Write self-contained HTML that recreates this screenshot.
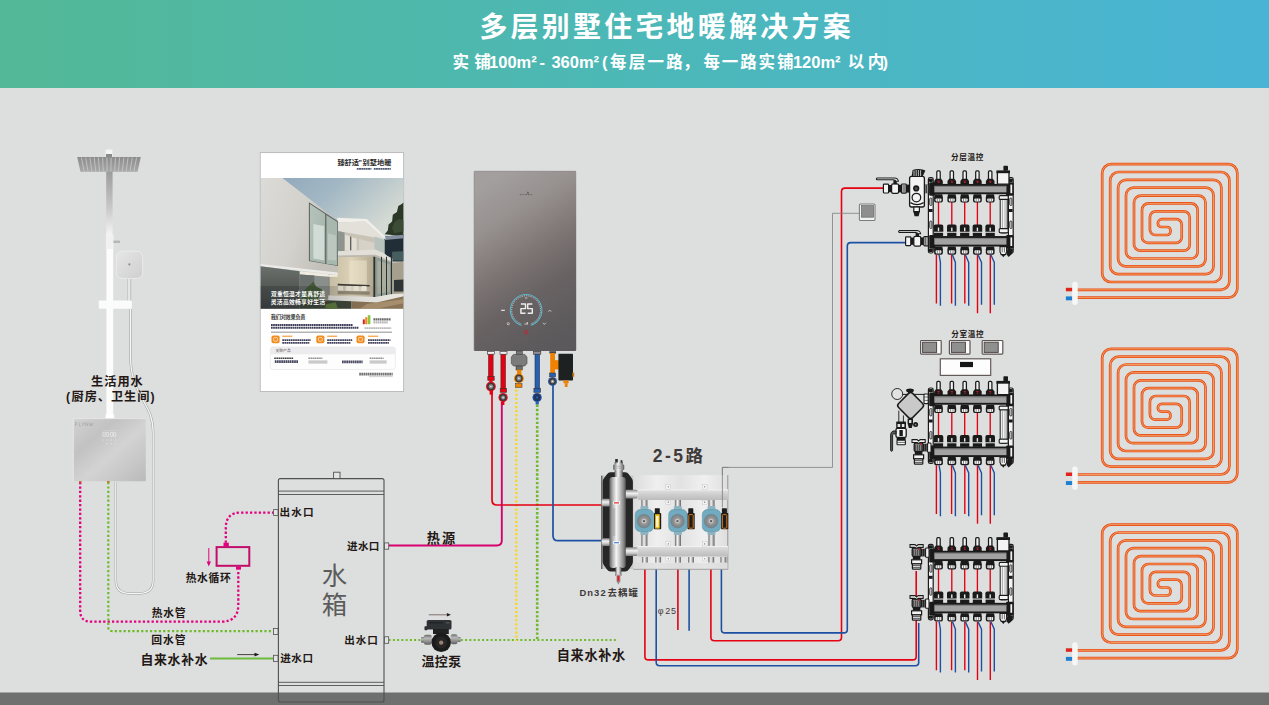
<!DOCTYPE html>
<html><head><meta charset="utf-8"><title>多层别墅住宅地暖解决方案</title>
<style>
html,body{margin:0;padding:0;overflow:hidden;width:1269px;height:705px;background:#dddfde;font-family:"Liberation Sans",sans-serif;}
svg{display:block}
</style></head><body>
<svg width="1269" height="705" viewBox="0 0 1269 705">
<defs>

<linearGradient id="hdr" x1="0" x2="1" y1="0" y2="0">
 <stop offset="0" stop-color="#53b896"/><stop offset="0.5" stop-color="#4cb8b7"/><stop offset="1" stop-color="#4ab4d6"/>
</linearGradient>


<linearGradient id="poleg" x1="0" x2="0" y1="0" y2="1">
 <stop offset="0" stop-color="#9b9b9b"/><stop offset="0.55" stop-color="#c9c9c9"/><stop offset="1" stop-color="#fbfbfb"/>
</linearGradient>
<linearGradient id="headg" x1="0" x2="0" y1="0" y2="1">
 <stop offset="0" stop-color="#8c8c8c"/><stop offset="1" stop-color="#a9a9a9"/>
</linearGradient>
<linearGradient id="handg" x1="0" x2="1" y1="0" y2="1">
 <stop offset="0" stop-color="#e6e6e6"/><stop offset="1" stop-color="#cfcfcf"/>
</linearGradient>
<linearGradient id="heatg" x1="0" x2="1" y1="0" y2="1">
 <stop offset="0" stop-color="#d2d2d2"/><stop offset="0.3" stop-color="#c2c2c2"/><stop offset="0.55" stop-color="#d3d3d3"/><stop offset="0.8" stop-color="#c6c6c6"/><stop offset="1" stop-color="#b9b9b9"/>
</linearGradient>

<linearGradient id="skyg" x1="0" x2="1" y1="0" y2="1">
 <stop offset="0" stop-color="#8aa4ba"/><stop offset="0.3" stop-color="#a3b8c4"/><stop offset="0.6" stop-color="#d3d9d3"/><stop offset="1" stop-color="#dcddd2"/>
</linearGradient>
<linearGradient id="wallg" x1="0" x2="1" y1="0" y2="0.4">
 <stop offset="0" stop-color="#dddbd7"/><stop offset="0.6" stop-color="#d3d1cc"/><stop offset="1" stop-color="#c3c0b9"/>
</linearGradient>
<linearGradient id="glassg" x1="0" x2="1" y1="0" y2="1">
 <stop offset="0" stop-color="#b5c3bc"/><stop offset="1" stop-color="#a3b3a9"/>
</linearGradient>
<linearGradient id="warmg" x1="0" x2="1" y1="0" y2="0">
 <stop offset="0" stop-color="#c4bba3"/><stop offset="0.5" stop-color="#ddd2b6"/><stop offset="1" stop-color="#b0a68f"/>
</linearGradient>
<linearGradient id="darkg" x1="0" x2="0" y1="0" y2="1">
 <stop offset="0" stop-color="#6a706c"/><stop offset="1" stop-color="#3e4140"/>
</linearGradient>
<linearGradient id="bandg" x1="0" x2="1" y1="0" y2="0">
 <stop offset="0" stop-color="#1e2224" stop-opacity="0.28"/><stop offset="0.45" stop-color="#1e2224" stop-opacity="0.2"/><stop offset="0.7" stop-color="#2a2520" stop-opacity="0.05"/><stop offset="1" stop-color="#2a2520" stop-opacity="0"/>
</linearGradient>
<clipPath id="photoclip"><rect x="260.5" y="177.9" width="143" height="130.9"/></clipPath>

<linearGradient id="boilg" x1="0.32" x2="0.68" y1="0" y2="1">
 <stop offset="0" stop-color="#a39f9f"/><stop offset="0.22" stop-color="#979190"/><stop offset="0.5" stop-color="#7b7372"/><stop offset="0.7" stop-color="#686263"/><stop offset="1" stop-color="#5b595b"/>
</linearGradient>

<linearGradient id="steelh" x1="0" x2="1" y1="0" y2="0">
 <stop offset="0" stop-color="#5e5e5e"/><stop offset="0.18" stop-color="#a9a9a9"/><stop offset="0.42" stop-color="#f4f4f4"/><stop offset="0.62" stop-color="#c9c9c9"/><stop offset="0.85" stop-color="#8a8a8a"/><stop offset="1" stop-color="#555"/>
</linearGradient>
<linearGradient id="steelv" x1="0" x2="0" y1="0" y2="1">
 <stop offset="0" stop-color="#8a8a8a"/><stop offset="0.4" stop-color="#f2f2f2"/><stop offset="0.7" stop-color="#c4c4c4"/><stop offset="1" stop-color="#7a7a7a"/>
</linearGradient>
<linearGradient id="railg" x1="0" x2="0" y1="0" y2="1">
 <stop offset="0" stop-color="#e2e2e2"/><stop offset="0.5" stop-color="#cdcdcd"/><stop offset="1" stop-color="#bcbcbc"/>
</linearGradient>
<linearGradient id="panelg" x1="0" x2="1" y1="0" y2="0">
 <stop offset="0" stop-color="#dcdcdc"/><stop offset="0.25" stop-color="#efefef"/><stop offset="0.5" stop-color="#e2e2e2"/><stop offset="0.75" stop-color="#f0f0f0"/><stop offset="1" stop-color="#dedede"/>
</linearGradient>
<radialGradient id="pumpc" cx="0.5" cy="0.5" r="0.5">
 <stop offset="0" stop-color="#5e5e5e"/><stop offset="0.28" stop-color="#b9b9b9"/><stop offset="0.6" stop-color="#8c8c8c"/><stop offset="1" stop-color="#76858b"/>
</radialGradient>

</defs>
<rect width="1269" height="705" fill="#dddfde"/>
<rect width="1269" height="88" fill="url(#hdr)"/>
<rect y="692.5" width="1269" height="12.5" fill="#6e706f"/>
<text x="479.4" y="36.88" font-size="27.88" font-weight="bold" fill="#fff" letter-spacing="3.33" font-family='"Liberation Sans","Noto Sans CJK SC",sans-serif'>多层别墅住宅地暖解决方案</text>
<text y="67.5" font-size="16.5" font-weight="bold" fill="#fff" font-family='"Liberation Sans","Noto Sans CJK SC",sans-serif'><tspan x="452.6">实</tspan><tspan x="474.3">铺</tspan><tspan x="489.1">100m²</tspan><tspan x="539.4">-</tspan><tspan x="551.4">360m²</tspan><tspan x="601.9">(</tspan><tspan x="610.1" letter-spacing="2.26">每层一路</tspan><tspan x="683">，</tspan><tspan x="703.5" letter-spacing="1.85">每一路实铺</tspan><tspan x="792.9">120m²</tspan><tspan x="847.7" letter-spacing="3.5">以内</tspan><tspan x="882.6">)</tspan></text>
<path d="M80.2,482.0 L80.2,610.7 Q80.2,621.7 91.2,621.7 L221.3,621.7 Q238.3,621.7 238.3,604.7 L238.3,569.5" fill="none" stroke="#e4007f" stroke-width="2.3" stroke-linecap="butt" stroke-linejoin="round" stroke-dasharray="2.3 2.1"/>
<path d="M225.8,542.7 L225.8,527.7 Q225.8,512.6 240.9,512.6 L273.5,512.6" fill="none" stroke="#e4007f" stroke-width="2.3" stroke-linecap="butt" stroke-linejoin="round" stroke-dasharray="2.3 2.1"/>
<path d="M108.3,482.0 L108.3,627.2 Q108.3,631.2 112.3,631.2 L273.5,631.2" fill="none" stroke="#6fba2c" stroke-width="2.2" stroke-linecap="butt" stroke-linejoin="round" stroke-dasharray="2.2 2.2"/>
<path d="M210.0,658.6 L273.5,658.6" fill="none" stroke="#6cbb3c" stroke-width="2.0" stroke-linecap="butt" stroke-linejoin="round"/>
<path d="M388.6,639.9 L616.8,639.9" fill="none" stroke="#6fba2c" stroke-width="2.0" stroke-linecap="butt" stroke-linejoin="round" stroke-dasharray="2 2.25"/>
<path d="M516.3,385.5 L516.3,641.0" fill="none" stroke="#fbd620" stroke-width="2.3" stroke-linecap="butt" stroke-linejoin="round" stroke-dasharray="2.15 1.95"/>
<path d="M537.2,404.5 L537.2,640.0" fill="none" stroke="#6fba2c" stroke-width="2.6" stroke-linecap="butt" stroke-linejoin="round" stroke-dasharray="2.4 1.9"/>
<path d="M492.0,390.0 L492.0,500.0 Q492.0,505.0 497.0,505.0 L604.0,505.0" fill="none" stroke="#e60012" stroke-width="1.7" stroke-linecap="butt" stroke-linejoin="round"/>
<path d="M501.8,402.0 L501.8,540.5 Q501.8,545.5 496.8,545.5 L388.7,545.5" fill="none" stroke="#d6006f" stroke-width="1.9" stroke-linecap="butt" stroke-linejoin="round"/>
<path d="M553.0,385.0 L553.0,535.7 Q553.0,540.7 558.0,540.7 L604.0,540.7" fill="none" stroke="#1d50a2" stroke-width="1.7" stroke-linecap="butt" stroke-linejoin="round"/>
<path d="M644.9,569.0 L644.9,656.4 Q644.9,659.9 648.4,659.9 L912.7,659.9 Q916.2,659.9 916.2,656.4 L916.2,571.0" fill="none" stroke="#e60012" stroke-width="1.6" stroke-linecap="butt" stroke-linejoin="round"/>
<path d="M656.2,569.0 L656.2,662.3 Q656.2,665.8 659.7,665.8 L915.2,665.8 Q918.7,665.8 918.7,662.3 L918.7,623.0" fill="none" stroke="#1d50a2" stroke-width="1.6" stroke-linecap="butt" stroke-linejoin="round"/>
<path d="M677.9,569.0 L677.9,630.0" fill="none" stroke="#e60012" stroke-width="1.6" stroke-linecap="butt" stroke-linejoin="round"/>
<path d="M689.1,569.0 L689.1,630.8" fill="none" stroke="#1d50a2" stroke-width="1.6" stroke-linecap="butt" stroke-linejoin="round"/>
<path d="M710.9,569.0 L710.9,637.3 Q710.9,640.8 714.4,640.8 L838.0,640.8 Q841.5,640.8 841.5,637.3 L841.5,191.6 Q841.5,188.1 845.0,188.1 L883.5,188.1" fill="none" stroke="#e60012" stroke-width="1.6" stroke-linecap="butt" stroke-linejoin="round"/>
<path d="M721.4,569.0 L721.4,629.4 Q721.4,632.9 724.9,632.9 L843.8,632.9 Q847.3,632.9 847.3,629.4 L847.3,246.1 Q847.3,242.6 850.8,242.6 L905.5,242.6" fill="none" stroke="#1d50a2" stroke-width="1.6" stroke-linecap="butt" stroke-linejoin="round"/>
<path d="M722.4,507.0 L722.4,467.4 Q722.4,467.4 722.4,467.4 L832.5,467.4 Q832.5,467.4 832.5,467.4 L832.5,213.3 Q832.5,213.3 832.5,213.3 L859.0,213.3" fill="none" stroke="#7d7d7d" stroke-width="0.8" stroke-linecap="butt" stroke-linejoin="round"/>
<path d="M208.8,548 V563" stroke="#e4007f" stroke-width="1" fill="none"/><path d="M206.6,561.5 L208.8,566.5 L211,561.5 Z" fill="#e4007f"/>
<path d="M237.2,654.6 H256" stroke="#231815" stroke-width="0.8" fill="none"/><path d="M254.5,652.8 L259.3,654.6 L254.5,656.4 Z" fill="#231815"/>
<path d="M428.8,614.8 H448" stroke="#6a5656" stroke-width="0.8" fill="none"/><path d="M446.9,613.1 L450.9,614.8 L446.9,616.5 Z" fill="#2a1a1a"/>
<rect x="216.6" y="547.1" width="32.7" height="18.7" fill="none" stroke="#c30d6b" stroke-width="2"/>
<rect x="223.5" y="542.7" width="5.3" height="3.6" fill="#e4007f"/><rect x="236" y="566.6" width="5" height="3" fill="#e4007f"/>
<path d="M130.5,309 V356 C130.5,376 136,387 141,396.5 C146.5,407 153.2,415 153.2,433 V580 Q153.2,593.3 140,593.3 H129 Q115.8,593.3 115.8,580 V482" fill="none" stroke="#9d9d9d" stroke-width="2.3"/>
<path d="M130.5,309 V356 C130.5,376 136,387 141,396.5 C146.5,407 153.2,415 153.2,433 V580 Q153.2,593.3 140,593.3 H129 Q115.8,593.3 115.8,580 V482" fill="none" stroke="#f6f6f6" stroke-width="1.3"/>
<rect x="106.2" y="171" width="6.4" height="68" fill="url(#poleg)"/>
<rect x="106.4" y="235" width="6.8" height="184" fill="#fcfcfc"/>
<rect x="105.8" y="235" width="7.6" height="14" fill="#f1f1f1"/>
<rect x="105.6" y="414.5" width="8.6" height="4.2" fill="#ffffff"/>
<rect x="105.6" y="149.5" width="6.8" height="8" fill="#f4f4f4"/><rect x="106" y="154" width="6" height="3.4" fill="#8a8a8a"/>
<path d="M77.2,157 H140.8 L137.6,171.8 H80.4 Z" fill="url(#headg)"/>
<path d="M81.4,157.6 L84.2,171.4 M85.7,157.6 L88.0,171.4 M89.9,157.6 L91.8,171.4 M94.2,157.6 L95.7,171.4 M98.4,157.6 L99.5,171.4 M102.6,157.6 L103.3,171.4 M106.9,157.6 L107.1,171.4 M111.1,157.6 L110.9,171.4 M115.4,157.6 L114.7,171.4 M119.6,157.6 L118.5,171.4 M123.8,157.6 L122.3,171.4 M128.1,157.6 L126.2,171.4 M132.3,157.6 L130.0,171.4 M136.6,157.6 L133.8,171.4 " stroke="#c4c4c4" stroke-width="0.9" fill="none"/>
<rect x="113.4" y="240.6" width="6.6" height="2.4" fill="#b5b5b5"/>
<rect x="127" y="270" width="4.4" height="31" fill="#c9c9c9"/><rect x="128.2" y="270" width="1.6" height="31" fill="#ececec"/>
<rect x="116.3" y="251.2" width="26.3" height="27.2" rx="5.5" fill="url(#handg)" stroke="#eeeeee" stroke-width="0.8"/>
<circle cx="129.4" cy="264.4" r="1.1" fill="#8d8d8d"/>
<rect x="98.8" y="300.4" width="33" height="8.4" rx="0.8" fill="#fbfbfb"/>
<rect x="73.4" y="418.6" width="72.4" height="62.6" rx="1" fill="url(#heatg)"/>
<path d="M73.4,481.2 V418.6 H145.8" fill="none" stroke="#e9e9e9" stroke-width="0.8"/>
<path d="M75.5,422.4 h2.2 m-2.2,0 v3.6 m0,-1.8 h1.8 M79.2,422.4 v3.6 h1.8 M81.6,422.4 l1.3,1.8 l1.3,-1.8 m-1.3,1.8 v1.8 M85.2,426 v-3.6 l2.4,3.6 v-3.6 M89.2,422.4 l0.9,3.6 l0.9,-2.6 l0.9,2.6 l0.9,-3.6" stroke="#9a9a9a" stroke-width="0.45" fill="none"/>
<g fill="none" stroke="#f4f4f4" stroke-width="0.7" opacity="0.9"><rect x="102.8" y="432.4" width="2.4" height="4" rx="0.5"/><rect x="106.2" y="432.4" width="2.4" height="4" rx="0.5"/><rect x="110.4" y="432.4" width="2.4" height="4" rx="0.5"/><rect x="113.6" y="432.4" width="2.2" height="4" rx="0.5"/><path d="M102.6,430.4 h13.4" stroke-width="0.4" opacity="0.6"/></g>
<g fill="#e6e6e6"><circle cx="103" cy="440" r="0.6"/><circle cx="107" cy="440" r="0.6"/><circle cx="111.4" cy="440" r="0.6"/><circle cx="115.4" cy="440" r="0.6"/><circle cx="107" cy="443.6" r="0.6"/><circle cx="111.4" cy="443.6" r="0.6"/><circle cx="115.4" cy="443.6" r="0.6"/></g>
<rect x="79" y="481" width="2.6" height="1.6" fill="#c47a2a"/><rect x="107" y="481" width="2.6" height="1.6" fill="#c47a2a"/>
<rect x="260.2" y="152.7" width="143.5" height="238.7" fill="#ffffff" stroke="#a9a9a9" stroke-width="0.7"/>
<g clip-path="url(#photoclip)">
<rect x="260.3" y="177.9" width="143.2" height="131" fill="url(#skyg)"/>
<polygon points="384.7,234.3 387.8,230.4 388.6,224.5 392.1,221.6 392.8,214.8 396.9,211.9 398.3,206.1 401.8,204.1 403.7,202.2 403.7,236.2" fill="#2b3727" />
<polygon points="392.1,227.5 395.0,221.6 399.8,218.7 403.7,220.7 403.7,231.3 394.0,233.3" fill="#3c4b35" />
<polygon points="384.3,236.4 403.7,234.8 403.7,261.5 392.1,261.5 384.3,253.1" fill="#222e37" />
<polygon points="384.3,236.4 403.7,234.8 403.7,238.3 384.7,239.9" fill="#8591a0" />
<polygon points="392.1,251.7 403.7,251.2 403.7,260.5 392.1,260.5" fill="#55756f" opacity="0.7"/>
<polygon points="337.3,217.7 366.8,218.9 385.3,236.8 385.3,239.5 365.2,221.6 337.3,222.4" fill="#f1efea" />
<polygon points="337.7,222.4 365.2,221.6 383.9,238.3 374.6,237.6 337.7,231.0" fill="#e3e0d9" />
<polygon points="337.7,231.0 374.6,237.6 374.6,251.2 337.7,251.5" fill="#c9c3b6" />
<polygon points="337.7,231.0 344.5,232.5 344.5,251.2 337.7,251.5" fill="#8e958f" />
<polygon points="345.0,234.8 356.7,238.7 356.7,250.4 345.0,250.8" fill="#e2dfd4" />
<polygon points="350.1,236.4 351.3,236.8 351.3,250.6 350.1,250.6" fill="#4d5250" />
<polygon points="359.0,239.1 374.2,242.6 374.2,250.4 359.0,250.4" fill="#d7d4ca" opacity="0.9"/>
<polygon points="374.6,236.4 384.7,239.9 384.7,253.1 374.6,250.0" fill="#b4c0b9" opacity="0.9"/>
<polygon points="337.7,251.2 375.7,249.6 392.4,258.5 392.4,262.8 375.7,256.6 337.7,257.4" fill="#e2dfd9" />
<polygon points="337.7,255.4 375.7,254.7 392.4,261.7 392.4,263.2 375.7,257.0 337.7,257.8" fill="#bdb8ad" />
<polygon points="328.3,257.4 375.0,256.6 375.0,297.0 328.3,295.8" fill="url(#warmg)" />
<polygon points="349.3,260.5 366.8,260.5 366.8,291.6 349.3,291.6" fill="#efe6d0" opacity="0.55"/>
<polygon points="375.0,256.6 392.4,262.8 392.4,294.3 375.0,297.4" fill="#8f9c92" />
<polygon points="377.5,260.5 390.1,264.8 390.1,291.6 377.5,293.9" fill="#c9c4ad" opacity="0.45"/>
<polygon points="392.4,262.8 403.7,261.8 403.7,293.9 392.4,294.3" fill="#a79f8d" />
<polygon points="394.0,279.9 403.7,279.5 403.7,291.6 394.0,291.6" fill="#2f3436" />
<polygon points="373.4,256.6 375.2,257.0 375.2,297.4 373.4,297.4" fill="#2c3133" />
<polygon points="381.0,256.6 382.0,257.0 382.0,297.4 381.0,297.4" fill="#2c3133" />
<polygon points="386.0,256.6 387.0,257.0 387.0,297.4 386.0,297.4" fill="#2c3133" />
<polygon points="390.9,256.6 392.1,257.0 392.1,297.4 390.9,297.4" fill="#2c3133" />
<polygon points="328.3,257.4 329.5,257.4 329.5,295.8 328.3,295.8" fill="#6d716d" />
<polygon points="337.7,283.8 369.7,285.0 369.7,286.5 337.7,285.4" fill="#3b3a36" />
<polygon points="338.2,286.1 342.9,286.1 343.3,290.8 337.9,290.8" fill="#f1eee6" opacity="0.9"/>
<polygon points="346.0,286.1 350.7,286.1 351.1,290.8 345.6,290.8" fill="#f1eee6" opacity="0.9"/>
<polygon points="353.8,286.1 358.4,286.1 358.8,290.8 353.4,290.8" fill="#f1eee6" opacity="0.9"/>
<polygon points="361.6,286.1 366.2,286.1 366.6,290.8 361.2,290.8" fill="#f1eee6" opacity="0.9"/>
<polygon points="337.7,290.8 369.7,291.6 369.7,294.7 337.7,294.3" fill="#6d6656" opacity="0.6"/>
<polygon points="327.6,295.5 375.0,297.0 392.4,293.9 403.7,293.5 403.7,296.2 376.9,302.5 327.6,299.7" fill="#e9e7e2" />
<polygon points="260.3,177.9 282.3,177.9 337.7,220.7 337.7,274.5 260.3,265.5" fill="url(#wallg)" />
<polygon points="260.3,264.0 337.7,272.5 337.7,274.9 260.3,266.3" fill="#ecebe7" />
<polygon points="308.9,202.2 338.0,221.2 338.0,265.9 308.9,260.9" fill="#5a6260" />
<polygon points="309.9,204.1 325.2,214.1 325.2,263.6 309.9,260.5" fill="url(#glassg)" />
<polygon points="326.4,215.0 337.3,222.0 337.3,265.3 326.4,263.8" fill="#a9b8af" />
<polygon points="313.4,224.0 324.1,225.9 324.1,260.5 313.4,258.5" fill="#dfe7e1" opacity="0.75"/>
<polygon points="327.9,233.3 336.1,235.6 336.1,260.5 327.9,259.7" fill="#cfd8d0" opacity="0.5"/>
<polygon points="260.3,266.3 299.8,271.2 299.8,309.1 260.3,309.1" fill="url(#darkg)" />
<polygon points="299.8,271.2 337.7,275.3 337.7,276.8 328.3,276.8 299.8,274.5" fill="#f0ece2" />
<polygon points="299.8,274.5 328.3,276.8 328.3,299.7 299.8,299.3" fill="#8a8f8b" />
<polygon points="299.8,274.5 314.3,275.6 314.3,299.3 299.8,299.3" fill="#6a706d" />
<polygon points="299.8,299.3 351.3,301.3 351.3,309.1 299.8,309.1" fill="#3b4336" />
<polygon points="301.1,293.5 308.9,285.7 313.4,281.5 316.3,286.7 322.1,289.6 319.8,296.4 316.3,300.3 301.7,300.3" fill="#435a37" />
<polygon points="326.0,304.2 335.7,302.3 338.0,309.1 325.0,309.1" fill="#5d7a3c" />
<polygon points="351.3,301.3 376.9,302.5 403.7,296.2 403.7,309.1 351.3,309.1" fill="#8b7457" />
<polygon points="366.8,304.0 403.7,299.3 403.7,303.2 374.6,309.1 359.0,309.1" fill="#b59c78" opacity="0.7"/>
<rect x="260.3" y="286" width="143.2" height="23" fill="url(#bandg)"/>
</g>
<text x="337.4" y="165.35" font-size="7.2" font-weight="bold" fill="#2a2a2a" font-family='"Liberation Sans","Noto Sans CJK SC",sans-serif'><tspan x="337.4">臻舒适</tspan><tspan x="358.6">"</tspan><tspan x="362.6">别墅地暖</tspan></text>
<path d="M356.8,168.9 H371.4 M373.8,168.9 H390.8" stroke="#26304e" stroke-width="1.9" stroke-dasharray="1.9 0.35" opacity="0.8"/>
<text x="270.9" y="296.32" font-size="5.8" font-weight="bold" fill="#ffffff" letter-spacing="0.25" font-family='"Liberation Sans","Noto Sans CJK SC",sans-serif'>双重恒温才是真舒适</text>
<text x="270.8" y="303.5" font-size="5.8" font-weight="bold" fill="#ffffff" letter-spacing="0.26" font-family='"Liberation Sans","Noto Sans CJK SC",sans-serif'>灵活高效畅享好生活</text>
<text x="270.8" y="319.37" font-size="5.2" font-weight="bold" fill="#3a3a3a" letter-spacing="-0.26" font-family='"Liberation Sans","Noto Sans CJK SC",sans-serif'>我们对效果负责</text>
<path d="M271.0,324.95 h82.0" stroke="#1c1c3a" stroke-width="1.9" stroke-dasharray="1.7 0.45" opacity="0.85"/><path d="M271.0,327.75 h87.4" stroke="#1c1c3a" stroke-width="1.9" stroke-dasharray="1.7 0.45" opacity="0.85"/>
<rect x="362.8" y="319.4" width="2" height="4.8" fill="#d2232a"/><rect x="365.2" y="317.2" width="2.2" height="7" fill="#f08a1e"/><rect x="367.8" y="315.2" width="2.6" height="9" fill="#8cc63f"/>
<path d="M373.4,319.30 h17.6" stroke="#444" stroke-width="2.2" stroke-dasharray="1.7 0.45" opacity="0.8"/><path d="M373.4,322.40 h14.4" stroke="#999" stroke-width="2.4" stroke-dasharray="1.7 0.45" opacity="0.7"/>
<path d="M364.6,328.10 h26.6" stroke="#999" stroke-width="1.8" stroke-dasharray="1.7 0.45" opacity="0.7"/>
<rect x="271" y="331.8" width="121" height="0.6" fill="#444"/>
<rect x="271.5" y="335.5" width="8.1" height="7.8" rx="1.8" fill="#f28c1c"/><rect x="273.7" y="337.6" width="3.7" height="3.6" rx="0.6" fill="none" stroke="#fff" stroke-width="0.6"/>
<rect x="282.3" y="335.6" width="10" height="1.3" fill="#f28c1c" opacity="0.8"/>
<path d="M282.3,340.15 h28.5 M282.3,342.85 h27.0" stroke="#1c1c3a" stroke-width="1.9" stroke-dasharray="1.7 0.45" opacity="0.85"/>
<rect x="316.3" y="335.5" width="8.1" height="7.8" rx="1.8" fill="#f28c1c"/><rect x="318.5" y="337.6" width="3.7" height="3.6" rx="0.6" fill="none" stroke="#fff" stroke-width="0.6"/>
<rect x="327.2" y="335.6" width="10" height="1.3" fill="#f28c1c" opacity="0.8"/>
<path d="M327.2,340.15 h25 M327.2,342.85 h23.5" stroke="#1c1c3a" stroke-width="1.9" stroke-dasharray="1.7 0.45" opacity="0.85"/>
<rect x="356.5" y="335.5" width="8.1" height="7.8" rx="1.8" fill="#f28c1c"/><rect x="358.7" y="337.6" width="3.7" height="3.6" rx="0.6" fill="none" stroke="#fff" stroke-width="0.6"/>
<rect x="368.1" y="335.6" width="10" height="1.3" fill="#f28c1c" opacity="0.8"/>
<path d="M368.1,340.15 h22.3 M368.1,342.85 h20.8" stroke="#1c1c3a" stroke-width="1.9" stroke-dasharray="1.7 0.45" opacity="0.85"/>
<rect x="270.3" y="346.9" width="125.1" height="22.6" rx="2.4" fill="#fdfdfd" stroke="#e3e3e6" stroke-width="0.6"/>
<path d="M270.3,354.3 V349.3 Q270.3,346.9 272.7,346.9 H393 Q395.4,346.9 395.4,349.3 V354.3 Z" fill="#ececee"/>
<text x="275.5" y="352.43" font-size="3.8" fill="#555" font-family='"Liberation Sans","Noto Sans CJK SC",sans-serif'>关联产品</text>
<path d="M274.2,358.15 h19.0" stroke="#222" stroke-width="1.5" stroke-dasharray="1.7 0.45" opacity="0.85"/><path d="M274.8,361.60 h23.6" stroke="#1c1c3a" stroke-width="2.8" stroke-dasharray="1.7 0.45" opacity="0.8"/>
<path d="M308.4,358.35 h14.0" stroke="#666" stroke-width="1.5" stroke-dasharray="1.7 0.45" opacity="0.7"/><rect x="308.4" y="360.6" width="19" height="1" fill="#aaa"/><rect x="308.4" y="362.4" width="19" height="1" fill="#aaa"/>
<path d="M342.0,361.90 h20.6" stroke="#1c1c3a" stroke-width="2.6" stroke-dasharray="1.7 0.45" opacity="0.8"/>
<path d="M369.6,358.35 h14.0" stroke="#666" stroke-width="1.5" stroke-dasharray="1.7 0.45" opacity="0.7"/><rect x="369.6" y="360.6" width="17" height="1" fill="#aaa"/><rect x="369.6" y="362.4" width="17" height="1" fill="#aaa"/>
<path d="M359.2,374.10 h33.5" stroke="#444" stroke-width="2.6" stroke-dasharray="1.7 0.45" opacity="0.75"/><rect x="369" y="376.4" width="23.6" height="0.7" fill="#bbb"/>
<rect x="473.9" y="170.9" width="102.3" height="180.1" rx="1.2" fill="url(#boilg)"/>
<path d="M474.2,351 V171.2 H576" fill="none" stroke="#8d8787" stroke-width="0.5"/>
<path d="M519.8,194.6 h2 m0.8,0 h1.6 m0.8,0 h2 m0.8,0 h2.2 m0.8,0 h1.6 M527.6,192 l1.2,1 l-1.2,0.6 Z" stroke="#5b5656" stroke-width="0.8" fill="#4b4646" opacity="0.8"/>
<circle cx="526.1" cy="310.2" r="15.8" fill="none" stroke="#5ab6ca" stroke-width="1.05" stroke-dasharray="20.1 9 69.6"/>
<circle cx="526.1" cy="310.2" r="14.4" fill="none" stroke="#ececec" stroke-width="1" stroke-dasharray="1 1.25" opacity="0.8"/><rect x="521.4" y="321.6" width="9.4" height="4" fill="#66605f"/>
<path d="M520.9,303.9 h4.6 v4.7 h-4.6 v4.7 h4.6 M532.3,303.9 h-4.6 v4.7 h4.6 v4.7 h-4.6" fill="none" stroke="#ededed" stroke-width="1.45" stroke-linejoin="round"/>
<g stroke="#d8d8d8" stroke-width="0.8" fill="none"><path d="M501.2,310.3 h3.6" stroke="#f2f2f2" stroke-width="1.1"/><path d="M548.4,311.6 l1.4,-1.6 l1.4,1.6"/><path d="M543,322.8 l1.4,1.6 l1.4,-1.6"/><circle cx="508.3" cy="323.7" r="1.1"/><path d="M525,324.6 v-1 M526.2,324.6 v-1.8 M527.4,324.6 v-2.6" stroke="#e6e6e6"/><path d="M525,298 h2.4"/></g>
<circle cx="526" cy="332.3" r="1.8" fill="none" stroke="#c8202c" stroke-width="0.9"/>
<rect x="488.5" y="352" width="4.6" height="25" fill="#e60012" stroke="#5a2323" stroke-width="0.6"/>
<rect x="487.6" y="351.4" width="7" height="2.8" fill="#efefef" stroke="#3a2f2f" stroke-width="0.6"/>
<rect x="487.8" y="376.3" width="6.4" height="4" fill="#e60012" stroke="#3a2f2f" stroke-width="0.6"/>
<rect x="489.4" y="380" width="3" height="3" fill="#e60012"/>
<circle cx="490.9" cy="386.5" r="4.9" fill="#d8121e"/><circle cx="490.9" cy="386.5" r="3.8" fill="#3d3a3a"/><circle cx="490.9" cy="386.5" r="2.3" fill="#8d8d8d"/><circle cx="490.9" cy="386.5" r="0.8" fill="#e8e8e8"/>
<rect x="489.6" y="390.6" width="3.2" height="4" fill="#e60012"/>
<rect x="500.9" y="352" width="4.6" height="37" fill="#e60012" stroke="#5a2323" stroke-width="0.6"/>
<rect x="500" y="351.4" width="7" height="2.8" fill="#efefef" stroke="#3a2f2f" stroke-width="0.6"/>
<rect x="500.2" y="388.3" width="6.4" height="4" fill="#e60012" stroke="#3a2f2f" stroke-width="0.6"/>
<circle cx="503.1" cy="397.6" r="4.6" fill="#d8121e"/><circle cx="503.1" cy="397.6" r="3.5" fill="#3d3a3a"/><circle cx="503.1" cy="397.6" r="2.0" fill="#8d8d8d"/><circle cx="503.1" cy="397.6" r="0.8" fill="#e8e8e8"/>
<rect x="501.4" y="401.6" width="3" height="3.4" fill="#e60012"/>
<rect x="516.2" y="351" width="6.2" height="4" fill="#777" stroke="#3a2f2f" stroke-width="0.5"/>
<path d="M513.4,354.4 H524.8 L527,357 V363.4 L524.8,366 H513.4 L511.3,363.4 V357 Z" fill="#7b7b7b" stroke="#4a4545" stroke-width="0.6"/>
<rect x="516" y="366" width="6.4" height="4" fill="#6c6c6c" stroke="#3a2f2f" stroke-width="0.5"/>
<rect x="517" y="369.6" width="4.4" height="4.4" fill="#ef8200"/>
<circle cx="518.9" cy="378.4" r="4.9" fill="#ef8200"/><circle cx="518.9" cy="378.4" r="3.8" fill="#3d3a3a"/><circle cx="518.9" cy="378.4" r="2.3" fill="#8d8d8d"/><circle cx="518.9" cy="378.4" r="0.8" fill="#e8e8e8"/>
<rect x="515.6" y="383.6" width="6.4" height="3.8" fill="#ef8200" stroke="#3a2f2f" stroke-width="0.5"/>
<rect x="535" y="352" width="4.5" height="37" fill="#2660b0" stroke="#27334d" stroke-width="0.6"/>
<rect x="533.6" y="351.4" width="7.2" height="2.8" fill="#8a8f98" stroke="#3a2f2f" stroke-width="0.6"/>
<rect x="533.9" y="388.3" width="6.6" height="4" fill="#2660b0" stroke="#3a2f2f" stroke-width="0.6"/>
<circle cx="537.1" cy="397.5" r="4.6" fill="#1d4f9f"/><circle cx="537.1" cy="397.5" r="3.4" fill="#23355e"/><circle cx="537.1" cy="397.5" r="1.1" fill="#2660b0"/>
<rect x="535.6" y="401.4" width="3.2" height="3" fill="#2660b0"/>
<rect x="549.4" y="351.2" width="6.6" height="2.4" fill="#4a4545"/>
<rect x="550.2" y="353" width="4.8" height="20" fill="#ef8200"/><rect x="554.6" y="360.2" width="4.6" height="9.2" fill="#ef8200"/>
<rect x="558.4" y="353.8" width="14.6" height="26.8" rx="0.8" fill="#1e2121"/>
<rect x="572.4" y="372.6" width="1.8" height="4.2" fill="#c87a12"/>
<rect x="563.4" y="380.5" width="5.2" height="2.8" fill="#ef8200"/><rect x="564.8" y="383.2" width="2.8" height="3.8" fill="#ef8200"/>
<rect x="549.6" y="373" width="6" height="3.8" fill="#2660b0" stroke="#3a2f2f" stroke-width="0.5"/>
<circle cx="552.5" cy="381.4" r="4.5" fill="#2a5caa"/><circle cx="552.5" cy="381.4" r="3.4" fill="#3d3a3a"/><circle cx="552.5" cy="381.4" r="1.9" fill="#8d8d8d"/><circle cx="552.5" cy="381.4" r="0.8" fill="#e8e8e8"/>
<path d="M280.4,478.6 H382 Q384,478.6 384,480.6 V700 Q384,702 382,702 H280.4 Q278.4,702 278.4,700 V480.6 Q278.4,478.6 280.4,478.6 Z" fill="none" stroke="#4f4f4f" stroke-width="1.1"/>
<path d="M278.4,491.1 H384 M278.4,494.5 H384 M278.4,682.3 H384 M278.4,685.5 H384" stroke="#4f4f4f" stroke-width="0.9" fill="none"/>
<rect x="333.6" y="472.2" width="6.4" height="6.4" fill="#e3e4e3" stroke="#4f4f4f" stroke-width="0.9"/>
<rect x="273.6" y="509.6" width="4.4" height="6" fill="#e3e4e3" stroke="#4f4f4f" stroke-width="0.8"/>
<rect x="273.4" y="628.4" width="4.6" height="6" fill="#e3e4e3" stroke="#4f4f4f" stroke-width="0.8"/>
<rect x="273.4" y="655.3" width="4.6" height="6.2" fill="#e3e4e3" stroke="#4f4f4f" stroke-width="0.8"/>
<rect x="384.4" y="542.9" width="4.3" height="6.3" fill="#e3e4e3" stroke="#4f4f4f" stroke-width="0.8"/>
<rect x="384.4" y="636.8" width="4.3" height="6.5" fill="#e3e4e3" stroke="#4f4f4f" stroke-width="0.8"/>
<defs><linearGradient id="flg" x1="0" x2="0" y1="0" y2="1"><stop offset="0" stop-color="#6c6c6c"/><stop offset="0.35" stop-color="#b9b9b9"/><stop offset="0.7" stop-color="#8c8c8c"/><stop offset="1" stop-color="#5f5f5f"/></linearGradient></defs>
<rect x="421" y="636.9" width="3.6" height="5.8" rx="1" fill="url(#flg)"/><rect x="423.8" y="634.8" width="8" height="10" rx="2.2" fill="url(#flg)"/>
<rect x="457" y="636.9" width="3.8" height="5.2" rx="1" fill="url(#flg)"/><rect x="450.6" y="634.2" width="7" height="10" rx="2.2" fill="url(#flg)"/>
<rect x="426.7" y="619.9" width="24.8" height="9.6" rx="1.6" fill="#2e3234"/><rect x="424.5" y="626.3" width="3" height="3.9" rx="0.6" fill="#2a2e30"/>
<rect x="429" y="622.2" width="14" height="1.2" fill="#1f2224"/><rect x="446" y="622" width="3.6" height="1.6" fill="#4a4f52"/>
<rect x="433" y="629" width="15.8" height="5" fill="#202222"/>
<circle cx="441.2" cy="642.4" r="9.7" fill="#1b1b1b"/><circle cx="441.2" cy="642.6" r="6" fill="#262626"/><circle cx="441.2" cy="642.6" r="2.2" fill="#9a8070"/>
<rect x="601.2" y="475.6" width="33" height="93.4" fill="#c9c9c9"/><rect x="601.2" y="475.6" width="1.2" height="93.4" fill="#555"/>
<rect x="633.3" y="475.1" width="94.8" height="94.3" fill="url(#panelg)"/>
<path d="M727.8,475.1 V569.2 H633.3" fill="none" stroke="#8c8c8c" stroke-width="0.9"/>
<path d="M610.4,472.2 H625.4 Q627.4,472.4 628.8,474.2 L631.9,478.6 Q632.9,480 632.9,482 V561.6 Q632.9,563.6 631.9,565 L628.8,569.6 Q627.4,571.4 625.4,571.6 H610.4 Q608.4,571.4 607,569.6 L603.7,565 Q602.7,563.6 602.7,561.6 V482 Q602.7,480 603.7,478.6 L607,474.2 Q608.4,472.4 610.4,472.2 Z" fill="#262626"/>
<rect x="601.7" y="498.8" width="9" height="7.8" rx="1.5" fill="url(#steelv)"/>
<rect x="601.7" y="538.2" width="9" height="7.8" rx="1.5" fill="url(#steelv)"/>
<rect x="625" y="489.8" width="12.6" height="8.8" rx="1.5" fill="url(#steelv)"/>
<rect x="625" y="547.2" width="12.6" height="8.8" rx="1.5" fill="url(#steelv)"/>
<rect x="614.6" y="462" width="8.2" height="17" fill="url(#steelh)"/><rect x="613.2" y="464.4" width="11" height="5.6" rx="0.8" fill="url(#steelh)"/><path d="M613.2,466.2 h11 M613.2,468.2 h11" stroke="#777" stroke-width="0.4"/><rect x="615.2" y="459" width="2.6" height="3.4" fill="#2d2d2d"/><rect x="620.6" y="460.2" width="1.8" height="2.4" fill="#2d2d2d"/>
<rect x="609.4" y="477" width="16.4" height="91" rx="3.2" fill="url(#steelh)"/>
<rect x="613.2" y="501.4" width="6.8" height="3" fill="#f7f7f7"/><rect x="614" y="502.2" width="5" height="1.3" fill="#e33a3a"/>
<rect x="613.2" y="541.2" width="6.8" height="3" fill="#f7f7f7"/><rect x="614" y="542" width="5" height="1.3" fill="#5a8fd6"/>
<rect x="612.6" y="508" width="2.6" height="28" fill="#9a9a9a" opacity="0.45"/>
<rect x="615.4" y="567" width="6" height="9" fill="url(#steelh)"/><rect x="616" y="574.5" width="4.8" height="7.4" rx="1.2" fill="#b9b9b9"/><rect x="617.2" y="575.5" width="2.4" height="6" fill="#d2232a"/><path d="M616.6,581.5 L618.4,584.4 L620.2,581.5 Z" fill="#8a8a8a"/>
<rect x="638.1" y="489.5" width="90" height="10.5" fill="url(#railg)"/>
<rect x="638.1" y="489.5" width="90" height="0.8" fill="#f5f5f5"/>
<rect x="638.1" y="546" width="90" height="10.5" fill="url(#railg)"/>
<rect x="638.1" y="546" width="90" height="0.8" fill="#f5f5f5"/>
<rect x="665.9" y="484.3" width="4.8" height="5" fill="#f4f4f4" stroke="#bdbdbd" stroke-width="0.4"/><circle cx="668.3" cy="486.8" r="0.6" fill="#6b6b3a"/>
<rect x="665.9" y="500.2" width="4.8" height="4" fill="#f4f4f4" stroke="#bdbdbd" stroke-width="0.4"/><circle cx="668.3" cy="502.2" r="0.6" fill="#6b6b3a"/>
<rect x="665.9" y="541.8" width="4.8" height="4.2" fill="#f4f4f4" stroke="#bdbdbd" stroke-width="0.4"/><circle cx="668.3" cy="543.9" r="0.6" fill="#6b6b3a"/>
<rect x="665.9" y="556.5" width="4.8" height="4.5" fill="#f4f4f4" stroke="#bdbdbd" stroke-width="0.4"/><circle cx="668.3" cy="558.75" r="0.6" fill="#6b6b3a"/>
<rect x="702.3" y="484.3" width="4.8" height="5" fill="#f4f4f4" stroke="#bdbdbd" stroke-width="0.4"/><circle cx="704.6999999999999" cy="486.8" r="0.6" fill="#6b6b3a"/>
<rect x="702.3" y="500.2" width="4.8" height="4" fill="#f4f4f4" stroke="#bdbdbd" stroke-width="0.4"/><circle cx="704.6999999999999" cy="502.2" r="0.6" fill="#6b6b3a"/>
<rect x="702.3" y="541.8" width="4.8" height="4.2" fill="#f4f4f4" stroke="#bdbdbd" stroke-width="0.4"/><circle cx="704.6999999999999" cy="543.9" r="0.6" fill="#6b6b3a"/>
<rect x="702.3" y="556.5" width="4.8" height="4.5" fill="#f4f4f4" stroke="#bdbdbd" stroke-width="0.4"/><circle cx="704.6999999999999" cy="558.75" r="0.6" fill="#6b6b3a"/>
<rect x="641.4" y="500" width="6" height="11" fill="url(#steelh)"/><rect x="641.4" y="530" width="6" height="16" fill="url(#steelh)"/>
<rect x="640.4" y="506" width="8" height="4" rx="1" fill="#8fb3bf"/><rect x="640.4" y="531" width="8" height="4" rx="1" fill="#8fb3bf"/>
<rect x="635.1999999999999" y="509.6" width="18.4" height="22" rx="5" fill="#72abc0"/>
<rect x="635.1999999999999" y="509.6" width="18.4" height="22" rx="5" fill="none" stroke="#5d95a8" stroke-width="0.6"/>
<circle cx="644.0" cy="521.1" r="6.9" fill="url(#pumpc)"/><circle cx="644.0" cy="521.1" r="6.9" fill="none" stroke="#66808a" stroke-width="0.5"/>
<circle cx="644.0" cy="521.1" r="2.8" fill="#c9c9c9" stroke="#7a7a7a" stroke-width="0.5"/><circle cx="644.0" cy="521.1" r="1.2" fill="#5d5d5d"/>
<rect x="654.0" y="513" width="7.2" height="16.3" rx="0.7" fill="#1d1d1d"/><rect x="654.8" y="508.2" width="5" height="6" rx="0.6" fill="#1d1d1d"/>
<rect x="655.1" y="514.2" width="4.6" height="14.4" fill="#f2c019"/><rect x="656.1" y="516" width="2.4" height="11" fill="#fff6c8"/>
<rect x="674.9" y="500" width="6" height="11" fill="url(#steelh)"/><rect x="674.9" y="530" width="6" height="16" fill="url(#steelh)"/>
<rect x="673.9" y="506" width="8" height="4" rx="1" fill="#8fb3bf"/><rect x="673.9" y="531" width="8" height="4" rx="1" fill="#8fb3bf"/>
<rect x="668.6999999999999" y="509.6" width="18.4" height="22" rx="5" fill="#72abc0"/>
<rect x="668.6999999999999" y="509.6" width="18.4" height="22" rx="5" fill="none" stroke="#5d95a8" stroke-width="0.6"/>
<circle cx="677.5" cy="521.1" r="6.9" fill="url(#pumpc)"/><circle cx="677.5" cy="521.1" r="6.9" fill="none" stroke="#66808a" stroke-width="0.5"/>
<circle cx="677.5" cy="521.1" r="2.8" fill="#c9c9c9" stroke="#7a7a7a" stroke-width="0.5"/><circle cx="677.5" cy="521.1" r="1.2" fill="#5d5d5d"/>
<rect x="687.5" y="513" width="7.2" height="16.3" rx="0.7" fill="#1d1d1d"/><rect x="688.3" y="508.2" width="5" height="6" rx="0.6" fill="#1d1d1d"/>
<rect x="688.8" y="514.6" width="4.4" height="13.6" rx="0.8" fill="none" stroke="#d5731a" stroke-width="1"/>
<rect x="708.5" y="500" width="6" height="11" fill="url(#steelh)"/><rect x="708.5" y="530" width="6" height="16" fill="url(#steelh)"/>
<rect x="707.5" y="506" width="8" height="4" rx="1" fill="#8fb3bf"/><rect x="707.5" y="531" width="8" height="4" rx="1" fill="#8fb3bf"/>
<rect x="702.3" y="509.6" width="18.4" height="22" rx="5" fill="#72abc0"/>
<rect x="702.3" y="509.6" width="18.4" height="22" rx="5" fill="none" stroke="#5d95a8" stroke-width="0.6"/>
<circle cx="711.1" cy="521.1" r="6.9" fill="url(#pumpc)"/><circle cx="711.1" cy="521.1" r="6.9" fill="none" stroke="#66808a" stroke-width="0.5"/>
<circle cx="711.1" cy="521.1" r="2.8" fill="#c9c9c9" stroke="#7a7a7a" stroke-width="0.5"/><circle cx="711.1" cy="521.1" r="1.2" fill="#5d5d5d"/>
<rect x="721.1" y="513" width="7.2" height="16.3" rx="0.7" fill="#1d1d1d"/><rect x="721.9" y="508.2" width="5" height="6" rx="0.6" fill="#1d1d1d"/>
<rect x="722.4" y="514.6" width="4.4" height="13.6" rx="0.8" fill="none" stroke="#d5731a" stroke-width="1"/>
<rect x="641.9" y="557" width="5.8" height="5.6" fill="url(#steelh)"/>
<rect x="655.3000000000001" y="557" width="5.8" height="5.6" fill="url(#steelh)"/>
<rect x="675.1" y="557" width="5.8" height="5.6" fill="url(#steelh)"/>
<rect x="688.1" y="557" width="5.8" height="5.6" fill="url(#steelh)"/>
<rect x="708.4" y="557" width="5.8" height="5.6" fill="url(#steelh)"/>
<rect x="720.5" y="557" width="5.8" height="5.6" fill="url(#steelh)"/>
<rect x="633.3" y="563" width="94.8" height="6" fill="#d9d9d9" opacity="0.55"/>
<path d="M722.4,507.5 V467.4 H728.5" fill="none" stroke="#7d7d7d" stroke-width="0.8"/>
<rect x="928.4" y="177.5" width="4.8" height="75.5" rx="1.8" fill="#f4f4f4" stroke="#1a1a1a" stroke-width="1.2"/>
<rect x="929.6999999999999" y="198" width="2.2" height="7.5" rx="1" fill="#cfcfcf" stroke="#1a1a1a" stroke-width="0.8"/><rect x="929.6999999999999" y="221" width="2.2" height="7.5" rx="1" fill="#cfcfcf" stroke="#1a1a1a" stroke-width="0.8"/>
<rect x="929.0" y="209" width="3.6" height="3" fill="#1a1a1a"/>
<rect x="928.8" y="178.5" width="4" height="3.4" rx="0.8" fill="#1a1a1a"/><rect x="928.8" y="248.6" width="4" height="3.4" rx="0.8" fill="#1a1a1a"/>
<rect x="1008.4" y="177.5" width="4.8" height="75.5" rx="1.8" fill="#f4f4f4" stroke="#1a1a1a" stroke-width="1.2"/>
<rect x="1009.6999999999999" y="198" width="2.2" height="7.5" rx="1" fill="#cfcfcf" stroke="#1a1a1a" stroke-width="0.8"/><rect x="1009.6999999999999" y="221" width="2.2" height="7.5" rx="1" fill="#cfcfcf" stroke="#1a1a1a" stroke-width="0.8"/>
<rect x="1009.0" y="209" width="3.6" height="3" fill="#1a1a1a"/>
<rect x="1008.8" y="178.5" width="4" height="3.4" rx="0.8" fill="#1a1a1a"/><rect x="1008.8" y="248.6" width="4" height="3.4" rx="0.8" fill="#1a1a1a"/>
<rect x="936.8" y="170.9" width="3.4" height="9.4" rx="1.1" fill="#f4f4f4" stroke="#1a1a1a" stroke-width="1.25"/>
<path d="M935.9,178.8 H941.1 L942.8,181 V184.6 H934.2 V181 Z" fill="#1a1a1a"/>
<rect x="937.5" y="180.7" width="2" height="0.9" fill="#e0202a"/><rect x="937.9" y="182.2" width="1.6" height="0.8" fill="#e0202a"/>
<rect x="950.0999999999999" y="170.9" width="3.4" height="9.4" rx="1.1" fill="#f4f4f4" stroke="#1a1a1a" stroke-width="1.25"/>
<path d="M949.1999999999999,178.8 H954.4 L956.0999999999999,181 V184.6 H947.5 V181 Z" fill="#1a1a1a"/>
<rect x="950.8" y="180.7" width="2" height="0.9" fill="#e0202a"/><rect x="951.1999999999999" y="182.2" width="1.6" height="0.8" fill="#e0202a"/>
<rect x="963.0" y="170.9" width="3.4" height="9.4" rx="1.1" fill="#f4f4f4" stroke="#1a1a1a" stroke-width="1.25"/>
<path d="M962.1,178.8 H967.3000000000001 L969.0,181 V184.6 H960.4000000000001 V181 Z" fill="#1a1a1a"/>
<rect x="963.7" y="180.7" width="2" height="0.9" fill="#e0202a"/><rect x="964.1" y="182.2" width="1.6" height="0.8" fill="#e0202a"/>
<rect x="975.6999999999999" y="170.9" width="3.4" height="9.4" rx="1.1" fill="#f4f4f4" stroke="#1a1a1a" stroke-width="1.25"/>
<path d="M974.8,178.8 H980.0 L981.6999999999999,181 V184.6 H973.1 V181 Z" fill="#1a1a1a"/>
<rect x="976.4" y="180.7" width="2" height="0.9" fill="#e0202a"/><rect x="976.8" y="182.2" width="1.6" height="0.8" fill="#e0202a"/>
<rect x="988.5" y="170.9" width="3.4" height="9.4" rx="1.1" fill="#f4f4f4" stroke="#1a1a1a" stroke-width="1.25"/>
<path d="M987.6,178.8 H992.8000000000001 L994.5,181 V184.6 H985.9000000000001 V181 Z" fill="#1a1a1a"/>
<rect x="989.2" y="180.7" width="2" height="0.9" fill="#e0202a"/><rect x="989.6" y="182.2" width="1.6" height="0.8" fill="#e0202a"/>
<path d="M938.5,201 V226" stroke="#e60012" stroke-width="1.35"/>
<path d="M951.8,201 V226" stroke="#e60012" stroke-width="1.35"/>
<path d="M964.7,201 V226" stroke="#e60012" stroke-width="1.35"/>
<path d="M977.4,201 V226" stroke="#e60012" stroke-width="1.35"/>
<path d="M990.2,201 V226" stroke="#e60012" stroke-width="1.35"/>
<rect x="929.2" y="182.2" width="6" height="13.6" rx="1.2" fill="#1a1a1a"/><rect x="1006" y="182.2" width="7.6" height="13.6" rx="1.4" fill="#1a1a1a"/>
<rect x="933.4" y="184.9" width="74" height="8.4" fill="#a2a2a2" stroke="#1a1a1a" stroke-width="1.9"/>
<path d="M934.4,186.5 H1006.4" stroke="#6e6e6e" stroke-width="0.7"/>
<rect x="1010.4" y="184.6" width="1.8" height="8.6" fill="#f4f4f4"/>
<path d="M934.7,194.2 H942.3 L942.9,197.4 V200.6 Q942.9,202.6 941.1,202.6 H935.9 Q934.1,202.6 934.1,200.6 V197.4 Z" fill="#1a1a1a"/>
<rect x="935.6" y="198.4" width="5.8" height="3" rx="0.8" fill="#f4f4f4"/><path d="M937.3,198.4 v3 M939.7,198.4 v3" stroke="#1a1a1a" stroke-width="0.5"/>
<path d="M948.0,194.2 H955.5999999999999 L956.1999999999999,197.4 V200.6 Q956.1999999999999,202.6 954.4,202.6 H949.1999999999999 Q947.4,202.6 947.4,200.6 V197.4 Z" fill="#1a1a1a"/>
<rect x="948.9" y="198.4" width="5.8" height="3" rx="0.8" fill="#f4f4f4"/><path d="M950.5999999999999,198.4 v3 M953.0,198.4 v3" stroke="#1a1a1a" stroke-width="0.5"/>
<path d="M960.9000000000001,194.2 H968.5 L969.1,197.4 V200.6 Q969.1,202.6 967.3000000000001,202.6 H962.1 Q960.3000000000001,202.6 960.3000000000001,200.6 V197.4 Z" fill="#1a1a1a"/>
<rect x="961.8000000000001" y="198.4" width="5.8" height="3" rx="0.8" fill="#f4f4f4"/><path d="M963.5,198.4 v3 M965.9000000000001,198.4 v3" stroke="#1a1a1a" stroke-width="0.5"/>
<path d="M973.6,194.2 H981.1999999999999 L981.8,197.4 V200.6 Q981.8,202.6 980.0,202.6 H974.8 Q973.0,202.6 973.0,200.6 V197.4 Z" fill="#1a1a1a"/>
<rect x="974.5" y="198.4" width="5.8" height="3" rx="0.8" fill="#f4f4f4"/><path d="M976.1999999999999,198.4 v3 M978.6,198.4 v3" stroke="#1a1a1a" stroke-width="0.5"/>
<path d="M986.4000000000001,194.2 H994.0 L994.6,197.4 V200.6 Q994.6,202.6 992.8000000000001,202.6 H987.6 Q985.8000000000001,202.6 985.8000000000001,200.6 V197.4 Z" fill="#1a1a1a"/>
<rect x="987.3000000000001" y="198.4" width="5.8" height="3" rx="0.8" fill="#f4f4f4"/><path d="M989.0,198.4 v3 M991.4000000000001,198.4 v3" stroke="#1a1a1a" stroke-width="0.5"/>
<path d="M933.7,226.4 Q933.7,224.6 935.5,224.6 H941.5 Q943.3,224.6 943.3,226.4 V231.8 H933.7 Z" fill="#1a1a1a"/>
<rect x="937.8" y="227.6" width="1.4" height="3.6" fill="#e8e8e8"/>
<rect x="933.9" y="232.8" width="9.2" height="3.6" fill="#1a1a1a"/>
<path d="M947.0,226.4 Q947.0,224.6 948.8,224.6 H954.8 Q956.5999999999999,224.6 956.5999999999999,226.4 V231.8 H947.0 Z" fill="#1a1a1a"/>
<rect x="951.0999999999999" y="227.6" width="1.4" height="3.6" fill="#e8e8e8"/>
<rect x="947.1999999999999" y="232.8" width="9.2" height="3.6" fill="#1a1a1a"/>
<path d="M959.9000000000001,226.4 Q959.9000000000001,224.6 961.7,224.6 H967.7 Q969.5,224.6 969.5,226.4 V231.8 H959.9000000000001 Z" fill="#1a1a1a"/>
<rect x="964.0" y="227.6" width="1.4" height="3.6" fill="#e8e8e8"/>
<rect x="960.1" y="232.8" width="9.2" height="3.6" fill="#1a1a1a"/>
<path d="M972.6,226.4 Q972.6,224.6 974.4,224.6 H980.4 Q982.1999999999999,224.6 982.1999999999999,226.4 V231.8 H972.6 Z" fill="#1a1a1a"/>
<rect x="976.6999999999999" y="227.6" width="1.4" height="3.6" fill="#e8e8e8"/>
<rect x="972.8" y="232.8" width="9.2" height="3.6" fill="#1a1a1a"/>
<path d="M985.4000000000001,226.4 Q985.4000000000001,224.6 987.2,224.6 H993.2 Q995.0,224.6 995.0,226.4 V231.8 H985.4000000000001 Z" fill="#1a1a1a"/>
<rect x="989.5" y="227.6" width="1.4" height="3.6" fill="#e8e8e8"/>
<rect x="985.6" y="232.8" width="9.2" height="3.6" fill="#1a1a1a"/>
<rect x="929.2" y="235" width="6" height="13.6" rx="1.2" fill="#1a1a1a"/><rect x="1006" y="235" width="7.6" height="13.6" rx="1.4" fill="#1a1a1a"/>
<rect x="933.4" y="237" width="74" height="8.6" fill="#a2a2a2" stroke="#1a1a1a" stroke-width="1.9"/>
<path d="M934.4,238.6 H1006.4" stroke="#6e6e6e" stroke-width="0.7"/>
<rect x="1010.4" y="237.4" width="1.8" height="8.6" fill="#f4f4f4"/>
<path d="M934.7,246.4 H942.3 L942.9,249.4 V252.8 Q942.9,254.8 941.1,254.8 H935.9 Q934.1,254.8 934.1,252.8 V249.4 Z" fill="#1a1a1a"/>
<rect x="935.6" y="250.2" width="5.8" height="3.2" rx="0.8" fill="#f4f4f4"/><path d="M937.3,250.2 v3.2 M939.7,250.2 v3.2" stroke="#1a1a1a" stroke-width="0.5"/>
<path d="M948.0,246.4 H955.5999999999999 L956.1999999999999,249.4 V252.8 Q956.1999999999999,254.8 954.4,254.8 H949.1999999999999 Q947.4,254.8 947.4,252.8 V249.4 Z" fill="#1a1a1a"/>
<rect x="948.9" y="250.2" width="5.8" height="3.2" rx="0.8" fill="#f4f4f4"/><path d="M950.5999999999999,250.2 v3.2 M953.0,250.2 v3.2" stroke="#1a1a1a" stroke-width="0.5"/>
<path d="M960.9000000000001,246.4 H968.5 L969.1,249.4 V252.8 Q969.1,254.8 967.3000000000001,254.8 H962.1 Q960.3000000000001,254.8 960.3000000000001,252.8 V249.4 Z" fill="#1a1a1a"/>
<rect x="961.8000000000001" y="250.2" width="5.8" height="3.2" rx="0.8" fill="#f4f4f4"/><path d="M963.5,250.2 v3.2 M965.9000000000001,250.2 v3.2" stroke="#1a1a1a" stroke-width="0.5"/>
<path d="M973.6,246.4 H981.1999999999999 L981.8,249.4 V252.8 Q981.8,254.8 980.0,254.8 H974.8 Q973.0,254.8 973.0,252.8 V249.4 Z" fill="#1a1a1a"/>
<rect x="974.5" y="250.2" width="5.8" height="3.2" rx="0.8" fill="#f4f4f4"/><path d="M976.1999999999999,250.2 v3.2 M978.6,250.2 v3.2" stroke="#1a1a1a" stroke-width="0.5"/>
<path d="M986.4000000000001,246.4 H994.0 L994.6,249.4 V252.8 Q994.6,254.8 992.8000000000001,254.8 H987.6 Q985.8000000000001,254.8 985.8000000000001,252.8 V249.4 Z" fill="#1a1a1a"/>
<rect x="987.3000000000001" y="250.2" width="5.8" height="3.2" rx="0.8" fill="#f4f4f4"/><path d="M989.0,250.2 v3.2 M991.4000000000001,250.2 v3.2" stroke="#1a1a1a" stroke-width="0.5"/>
<rect x="997.4" y="171.6" width="11.6" height="12.6" rx="0.8" fill="#f4f4f4" stroke="#1a1a1a" stroke-width="1.3"/>
<rect x="996.4" y="170.4" width="13.6" height="2.8" fill="#1a1a1a"/><rect x="1003.4" y="165.8" width="4.6" height="5" rx="0.8" fill="#1a1a1a"/>
<rect x="1000.2" y="196" width="7" height="37" rx="1" fill="#f4f4f4" stroke="#1a1a1a" stroke-width="1"/>
<rect x="999.2" y="195.6" width="9" height="3.8" rx="1" fill="#f4f4f4" stroke="#1a1a1a" stroke-width="1.1"/><rect x="999.2" y="228.6" width="9" height="4.2" rx="1" fill="#f4f4f4" stroke="#1a1a1a" stroke-width="1.1"/>
<path d="M1002.4,200 V228 M1005,200 V228" stroke="#8a8a8a" stroke-width="0.7"/>
<path d="M1000,246.6 h6.6 v5.4 l-1.2,2.6 h-4.2 l-1.2,-2.6 Z" fill="#f4f4f4" stroke="#1a1a1a" stroke-width="1.1"/><path d="M1001.2,254.6 h4.2 l-2.1,2.6 Z" fill="#1a1a1a"/>
<path d="M1002.2,247.4 v5 M1004.4,247.4 v5" stroke="#1a1a1a" stroke-width="0.6"/>
<path d="M1007.6,247.2 q5.4,1.4 4.8,6.4 l-3.8,3.4 l-2,-2.6 Z" fill="#1a1a1a"/>
<path d="M936.4,254.8 V303.5" stroke="#e60012" stroke-width="1.4" fill="none"/>
<path d="M939.1,254.8 L940.4,262.40000000000003 V305.8" stroke="#1d50a2" stroke-width="1.4" fill="none"/>
<path d="M951.6,254.8 V303.5" stroke="#e60012" stroke-width="1.4" fill="none"/>
<path d="M952.4,254.8 L955.4,262.40000000000003 V305.8" stroke="#1d50a2" stroke-width="1.4" fill="none"/>
<path d="M964.8,254.8 V303.5" stroke="#e60012" stroke-width="1.4" fill="none"/>
<path d="M965.3000000000001,254.8 L968.7,262.40000000000003 V305.8" stroke="#1d50a2" stroke-width="1.4" fill="none"/>
<path d="M977.5,254.8 V313.2" stroke="#e60012" stroke-width="1.4" fill="none"/>
<path d="M978.0,254.8 L981.5,262.40000000000003 V304.7" stroke="#1d50a2" stroke-width="1.4" fill="none"/>
<path d="M990.3,254.8 V313.2" stroke="#e60012" stroke-width="1.4" fill="none"/>
<path d="M990.8000000000001,254.8 L994.3,262.40000000000003 V304.7" stroke="#1d50a2" stroke-width="1.4" fill="none"/>
<rect x="883.4" y="184.2" width="5.2" height="8.8" rx="0.8" fill="#f4f4f4" stroke="#1a1a1a" stroke-width="1.2"/>
<rect x="888.6" y="185.0" width="3.2" height="7.2" fill="#1a1a1a"/>
<rect x="891.6" y="183.79999999999998" width="7" height="9.6" rx="1.6" fill="#f4f4f4" stroke="#1a1a1a" stroke-width="1.25"/>
<rect x="898.6" y="184.79999999999998" width="3" height="7.6" fill="#1a1a1a"/>
<rect x="901.6" y="184.0" width="4.6" height="9.2" rx="0.8" fill="#f4f4f4" stroke="#1a1a1a" stroke-width="1.2"/>
<path d="M903.1999999999999,184.6 V192.6 M904.8,184.6 V192.6" stroke="#1a1a1a" stroke-width="0.7"/>
<rect x="893.4" y="180.2" width="3.4" height="4" fill="#1a1a1a"/>
<path d="M877.0,178.0 H894.4 Q898.0,178.2 898.4,181.2 L896.0,181.2 Q895.4,180.0 893.4,179.79999999999998 H877.0 Q875.8,178.9 877.0,178.0 Z" fill="#f4f4f4" stroke="#1a1a1a" stroke-width="1.05"/>
<rect x="906" y="184.6" width="3.6" height="8" fill="#1a1a1a"/>
<rect x="924.2" y="184.6" width="5.4" height="8.6" fill="#1a1a1a"/><path d="M925.8,185 v8 M927.6,185 v8" stroke="#ddd" stroke-width="0.7"/>
<rect x="909.6" y="176.4" width="14.8" height="30.6" rx="2" fill="#f4f4f4" stroke="#1a1a1a" stroke-width="1.3"/>
<path d="M911.6,176.6 L912.6,170 Q917,168.4 922.6,169.4 L925.4,170.6 L922.6,176.6 Z" fill="#1a1a1a"/>
<path d="M914,170.4 v5.6 M916.2,170 v6 M918.4,170 v6 M920.6,170.2 v5.8" stroke="#e8e8e8" stroke-width="0.8"/>
<circle cx="916.2" cy="188.4" r="3.1" fill="#1a1a1a"/><circle cx="916.2" cy="188.4" r="1.5" fill="#4d4d4d"/>
<circle cx="916.4" cy="197.6" r="4.3" fill="#f4f4f4" stroke="#1a1a1a" stroke-width="1.25"/>
<path d="M910.4,202.6 Q917,206.6 923.6,202.6" fill="none" stroke="#1a1a1a" stroke-width="1.25"/>
<rect x="913.8" y="207" width="5.6" height="4.6" fill="#f4f4f4" stroke="#1a1a1a" stroke-width="1.2"/><path d="M913.4,211.6 h6.4 l-1.2,4.6 h-4 Z" fill="#1a1a1a"/>
<rect x="905.6" y="236.79999999999998" width="5.2" height="8.8" rx="0.8" fill="#f4f4f4" stroke="#1a1a1a" stroke-width="1.2"/>
<rect x="910.8000000000001" y="237.6" width="3.2" height="7.2" fill="#1a1a1a"/>
<rect x="913.8000000000001" y="236.39999999999998" width="7" height="9.6" rx="1.6" fill="#f4f4f4" stroke="#1a1a1a" stroke-width="1.25"/>
<rect x="920.8000000000001" y="237.39999999999998" width="3" height="7.6" fill="#1a1a1a"/>
<rect x="923.8000000000001" y="236.6" width="4.6" height="9.2" rx="0.8" fill="#f4f4f4" stroke="#1a1a1a" stroke-width="1.2"/>
<path d="M925.4,237.2 V245.2 M927.0,237.2 V245.2" stroke="#1a1a1a" stroke-width="0.7"/>
<rect x="915.6" y="232.79999999999998" width="3.4" height="4" fill="#1a1a1a"/>
<path d="M899.2,230.6 H916.6 Q920.2,230.79999999999998 920.6,233.79999999999998 L918.2,233.79999999999998 Q917.6,232.6 915.6,232.39999999999998 H899.2 Q898.0,231.5 899.2,230.6 Z" fill="#f4f4f4" stroke="#1a1a1a" stroke-width="1.05"/>
<rect x="859.4" y="203.9" width="15.6" height="16.5" rx="1" fill="#f2f2f2" stroke="#7d7d7d" stroke-width="1.05"/><rect x="861.4" y="205.6" width="12.2" height="11.6" fill="#8e8e8e" stroke="#6c6c6c" stroke-width="0.7"/>
<rect x="928.4" y="388.0" width="4.8" height="75.5" rx="1.8" fill="#f4f4f4" stroke="#1a1a1a" stroke-width="1.2"/>
<rect x="929.6999999999999" y="408.5" width="2.2" height="7.5" rx="1" fill="#cfcfcf" stroke="#1a1a1a" stroke-width="0.8"/><rect x="929.6999999999999" y="431.5" width="2.2" height="7.5" rx="1" fill="#cfcfcf" stroke="#1a1a1a" stroke-width="0.8"/>
<rect x="929.0" y="419.5" width="3.6" height="3" fill="#1a1a1a"/>
<rect x="928.8" y="389.0" width="4" height="3.4" rx="0.8" fill="#1a1a1a"/><rect x="928.8" y="459.1" width="4" height="3.4" rx="0.8" fill="#1a1a1a"/>
<rect x="1008.4" y="388.0" width="4.8" height="75.5" rx="1.8" fill="#f4f4f4" stroke="#1a1a1a" stroke-width="1.2"/>
<rect x="1009.6999999999999" y="408.5" width="2.2" height="7.5" rx="1" fill="#cfcfcf" stroke="#1a1a1a" stroke-width="0.8"/><rect x="1009.6999999999999" y="431.5" width="2.2" height="7.5" rx="1" fill="#cfcfcf" stroke="#1a1a1a" stroke-width="0.8"/>
<rect x="1009.0" y="419.5" width="3.6" height="3" fill="#1a1a1a"/>
<rect x="1008.8" y="389.0" width="4" height="3.4" rx="0.8" fill="#1a1a1a"/><rect x="1008.8" y="459.1" width="4" height="3.4" rx="0.8" fill="#1a1a1a"/>
<rect x="936.8" y="381.4" width="3.4" height="9.4" rx="1.1" fill="#f4f4f4" stroke="#1a1a1a" stroke-width="1.25"/>
<path d="M935.9,389.3 H941.1 L942.8,391.5 V395.1 H934.2 V391.5 Z" fill="#1a1a1a"/>
<rect x="937.5" y="391.2" width="2" height="0.9" fill="#e0202a"/><rect x="937.9" y="392.7" width="1.6" height="0.8" fill="#e0202a"/>
<rect x="950.0999999999999" y="381.4" width="3.4" height="9.4" rx="1.1" fill="#f4f4f4" stroke="#1a1a1a" stroke-width="1.25"/>
<path d="M949.1999999999999,389.3 H954.4 L956.0999999999999,391.5 V395.1 H947.5 V391.5 Z" fill="#1a1a1a"/>
<rect x="950.8" y="391.2" width="2" height="0.9" fill="#e0202a"/><rect x="951.1999999999999" y="392.7" width="1.6" height="0.8" fill="#e0202a"/>
<rect x="963.0" y="381.4" width="3.4" height="9.4" rx="1.1" fill="#f4f4f4" stroke="#1a1a1a" stroke-width="1.25"/>
<path d="M962.1,389.3 H967.3000000000001 L969.0,391.5 V395.1 H960.4000000000001 V391.5 Z" fill="#1a1a1a"/>
<rect x="963.7" y="391.2" width="2" height="0.9" fill="#e0202a"/><rect x="964.1" y="392.7" width="1.6" height="0.8" fill="#e0202a"/>
<rect x="975.6999999999999" y="381.4" width="3.4" height="9.4" rx="1.1" fill="#f4f4f4" stroke="#1a1a1a" stroke-width="1.25"/>
<path d="M974.8,389.3 H980.0 L981.6999999999999,391.5 V395.1 H973.1 V391.5 Z" fill="#1a1a1a"/>
<rect x="976.4" y="391.2" width="2" height="0.9" fill="#e0202a"/><rect x="976.8" y="392.7" width="1.6" height="0.8" fill="#e0202a"/>
<rect x="988.5" y="381.4" width="3.4" height="9.4" rx="1.1" fill="#f4f4f4" stroke="#1a1a1a" stroke-width="1.25"/>
<path d="M987.6,389.3 H992.8000000000001 L994.5,391.5 V395.1 H985.9000000000001 V391.5 Z" fill="#1a1a1a"/>
<rect x="989.2" y="391.2" width="2" height="0.9" fill="#e0202a"/><rect x="989.6" y="392.7" width="1.6" height="0.8" fill="#e0202a"/>
<path d="M938.5,411.5 V436.5" stroke="#e60012" stroke-width="1.35"/>
<path d="M951.8,411.5 V436.5" stroke="#e60012" stroke-width="1.35"/>
<path d="M964.7,411.5 V436.5" stroke="#e60012" stroke-width="1.35"/>
<path d="M977.4,411.5 V436.5" stroke="#e60012" stroke-width="1.35"/>
<path d="M990.2,411.5 V436.5" stroke="#e60012" stroke-width="1.35"/>
<rect x="929.2" y="392.7" width="6" height="13.6" rx="1.2" fill="#1a1a1a"/><rect x="1006" y="392.7" width="7.6" height="13.6" rx="1.4" fill="#1a1a1a"/>
<rect x="933.4" y="395.4" width="74" height="8.4" fill="#a2a2a2" stroke="#1a1a1a" stroke-width="1.9"/>
<path d="M934.4,397.0 H1006.4" stroke="#6e6e6e" stroke-width="0.7"/>
<rect x="1010.4" y="395.1" width="1.8" height="8.6" fill="#f4f4f4"/>
<path d="M934.7,404.7 H942.3 L942.9,407.9 V411.1 Q942.9,413.1 941.1,413.1 H935.9 Q934.1,413.1 934.1,411.1 V407.9 Z" fill="#1a1a1a"/>
<rect x="935.6" y="408.9" width="5.8" height="3" rx="0.8" fill="#f4f4f4"/><path d="M937.3,408.9 v3 M939.7,408.9 v3" stroke="#1a1a1a" stroke-width="0.5"/>
<path d="M948.0,404.7 H955.5999999999999 L956.1999999999999,407.9 V411.1 Q956.1999999999999,413.1 954.4,413.1 H949.1999999999999 Q947.4,413.1 947.4,411.1 V407.9 Z" fill="#1a1a1a"/>
<rect x="948.9" y="408.9" width="5.8" height="3" rx="0.8" fill="#f4f4f4"/><path d="M950.5999999999999,408.9 v3 M953.0,408.9 v3" stroke="#1a1a1a" stroke-width="0.5"/>
<path d="M960.9000000000001,404.7 H968.5 L969.1,407.9 V411.1 Q969.1,413.1 967.3000000000001,413.1 H962.1 Q960.3000000000001,413.1 960.3000000000001,411.1 V407.9 Z" fill="#1a1a1a"/>
<rect x="961.8000000000001" y="408.9" width="5.8" height="3" rx="0.8" fill="#f4f4f4"/><path d="M963.5,408.9 v3 M965.9000000000001,408.9 v3" stroke="#1a1a1a" stroke-width="0.5"/>
<path d="M973.6,404.7 H981.1999999999999 L981.8,407.9 V411.1 Q981.8,413.1 980.0,413.1 H974.8 Q973.0,413.1 973.0,411.1 V407.9 Z" fill="#1a1a1a"/>
<rect x="974.5" y="408.9" width="5.8" height="3" rx="0.8" fill="#f4f4f4"/><path d="M976.1999999999999,408.9 v3 M978.6,408.9 v3" stroke="#1a1a1a" stroke-width="0.5"/>
<path d="M986.4000000000001,404.7 H994.0 L994.6,407.9 V411.1 Q994.6,413.1 992.8000000000001,413.1 H987.6 Q985.8000000000001,413.1 985.8000000000001,411.1 V407.9 Z" fill="#1a1a1a"/>
<rect x="987.3000000000001" y="408.9" width="5.8" height="3" rx="0.8" fill="#f4f4f4"/><path d="M989.0,408.9 v3 M991.4000000000001,408.9 v3" stroke="#1a1a1a" stroke-width="0.5"/>
<path d="M933.7,436.9 Q933.7,435.1 935.5,435.1 H941.5 Q943.3,435.1 943.3,436.9 V442.3 H933.7 Z" fill="#1a1a1a"/>
<rect x="937.8" y="438.1" width="1.4" height="3.6" fill="#e8e8e8"/>
<rect x="933.9" y="443.3" width="9.2" height="3.6" fill="#1a1a1a"/>
<path d="M947.0,436.9 Q947.0,435.1 948.8,435.1 H954.8 Q956.5999999999999,435.1 956.5999999999999,436.9 V442.3 H947.0 Z" fill="#1a1a1a"/>
<rect x="951.0999999999999" y="438.1" width="1.4" height="3.6" fill="#e8e8e8"/>
<rect x="947.1999999999999" y="443.3" width="9.2" height="3.6" fill="#1a1a1a"/>
<path d="M959.9000000000001,436.9 Q959.9000000000001,435.1 961.7,435.1 H967.7 Q969.5,435.1 969.5,436.9 V442.3 H959.9000000000001 Z" fill="#1a1a1a"/>
<rect x="964.0" y="438.1" width="1.4" height="3.6" fill="#e8e8e8"/>
<rect x="960.1" y="443.3" width="9.2" height="3.6" fill="#1a1a1a"/>
<path d="M972.6,436.9 Q972.6,435.1 974.4,435.1 H980.4 Q982.1999999999999,435.1 982.1999999999999,436.9 V442.3 H972.6 Z" fill="#1a1a1a"/>
<rect x="976.6999999999999" y="438.1" width="1.4" height="3.6" fill="#e8e8e8"/>
<rect x="972.8" y="443.3" width="9.2" height="3.6" fill="#1a1a1a"/>
<path d="M985.4000000000001,436.9 Q985.4000000000001,435.1 987.2,435.1 H993.2 Q995.0,435.1 995.0,436.9 V442.3 H985.4000000000001 Z" fill="#1a1a1a"/>
<rect x="989.5" y="438.1" width="1.4" height="3.6" fill="#e8e8e8"/>
<rect x="985.6" y="443.3" width="9.2" height="3.6" fill="#1a1a1a"/>
<rect x="929.2" y="445.5" width="6" height="13.6" rx="1.2" fill="#1a1a1a"/><rect x="1006" y="445.5" width="7.6" height="13.6" rx="1.4" fill="#1a1a1a"/>
<rect x="933.4" y="447.5" width="74" height="8.6" fill="#a2a2a2" stroke="#1a1a1a" stroke-width="1.9"/>
<path d="M934.4,449.1 H1006.4" stroke="#6e6e6e" stroke-width="0.7"/>
<rect x="1010.4" y="447.9" width="1.8" height="8.6" fill="#f4f4f4"/>
<path d="M934.7,456.9 H942.3 L942.9,459.9 V463.3 Q942.9,465.3 941.1,465.3 H935.9 Q934.1,465.3 934.1,463.3 V459.9 Z" fill="#1a1a1a"/>
<rect x="935.6" y="460.7" width="5.8" height="3.2" rx="0.8" fill="#f4f4f4"/><path d="M937.3,460.7 v3.2 M939.7,460.7 v3.2" stroke="#1a1a1a" stroke-width="0.5"/>
<path d="M948.0,456.9 H955.5999999999999 L956.1999999999999,459.9 V463.3 Q956.1999999999999,465.3 954.4,465.3 H949.1999999999999 Q947.4,465.3 947.4,463.3 V459.9 Z" fill="#1a1a1a"/>
<rect x="948.9" y="460.7" width="5.8" height="3.2" rx="0.8" fill="#f4f4f4"/><path d="M950.5999999999999,460.7 v3.2 M953.0,460.7 v3.2" stroke="#1a1a1a" stroke-width="0.5"/>
<path d="M960.9000000000001,456.9 H968.5 L969.1,459.9 V463.3 Q969.1,465.3 967.3000000000001,465.3 H962.1 Q960.3000000000001,465.3 960.3000000000001,463.3 V459.9 Z" fill="#1a1a1a"/>
<rect x="961.8000000000001" y="460.7" width="5.8" height="3.2" rx="0.8" fill="#f4f4f4"/><path d="M963.5,460.7 v3.2 M965.9000000000001,460.7 v3.2" stroke="#1a1a1a" stroke-width="0.5"/>
<path d="M973.6,456.9 H981.1999999999999 L981.8,459.9 V463.3 Q981.8,465.3 980.0,465.3 H974.8 Q973.0,465.3 973.0,463.3 V459.9 Z" fill="#1a1a1a"/>
<rect x="974.5" y="460.7" width="5.8" height="3.2" rx="0.8" fill="#f4f4f4"/><path d="M976.1999999999999,460.7 v3.2 M978.6,460.7 v3.2" stroke="#1a1a1a" stroke-width="0.5"/>
<path d="M986.4000000000001,456.9 H994.0 L994.6,459.9 V463.3 Q994.6,465.3 992.8000000000001,465.3 H987.6 Q985.8000000000001,465.3 985.8000000000001,463.3 V459.9 Z" fill="#1a1a1a"/>
<rect x="987.3000000000001" y="460.7" width="5.8" height="3.2" rx="0.8" fill="#f4f4f4"/><path d="M989.0,460.7 v3.2 M991.4000000000001,460.7 v3.2" stroke="#1a1a1a" stroke-width="0.5"/>
<rect x="997.4" y="382.1" width="11.6" height="12.6" rx="0.8" fill="#f4f4f4" stroke="#1a1a1a" stroke-width="1.3"/>
<rect x="996.4" y="380.9" width="13.6" height="2.8" fill="#1a1a1a"/><rect x="1003.4" y="376.3" width="4.6" height="5" rx="0.8" fill="#1a1a1a"/>
<rect x="1000.2" y="406.5" width="7" height="37" rx="1" fill="#f4f4f4" stroke="#1a1a1a" stroke-width="1"/>
<rect x="999.2" y="406.1" width="9" height="3.8" rx="1" fill="#f4f4f4" stroke="#1a1a1a" stroke-width="1.1"/><rect x="999.2" y="439.1" width="9" height="4.2" rx="1" fill="#f4f4f4" stroke="#1a1a1a" stroke-width="1.1"/>
<path d="M1002.4,410.5 V438.5 M1005,410.5 V438.5" stroke="#8a8a8a" stroke-width="0.7"/>
<path d="M1000,457.1 h6.6 v5.4 l-1.2,2.6 h-4.2 l-1.2,-2.6 Z" fill="#f4f4f4" stroke="#1a1a1a" stroke-width="1.1"/><path d="M1001.2,465.1 h4.2 l-2.1,2.6 Z" fill="#1a1a1a"/>
<path d="M1002.2,457.9 v5 M1004.4,457.9 v5" stroke="#1a1a1a" stroke-width="0.6"/>
<path d="M1007.6,457.7 q5.4,1.4 4.8,6.4 l-3.8,3.4 l-2,-2.6 Z" fill="#1a1a1a"/>
<path d="M936.4,465.3 V514.0" stroke="#e60012" stroke-width="1.4" fill="none"/>
<path d="M939.1,465.3 L940.4,472.90000000000003 V516.3" stroke="#1d50a2" stroke-width="1.4" fill="none"/>
<path d="M951.6,465.3 V514.0" stroke="#e60012" stroke-width="1.4" fill="none"/>
<path d="M952.4,465.3 L955.4,472.90000000000003 V516.3" stroke="#1d50a2" stroke-width="1.4" fill="none"/>
<path d="M964.8,465.3 V514.0" stroke="#e60012" stroke-width="1.4" fill="none"/>
<path d="M965.3000000000001,465.3 L968.7,472.90000000000003 V516.3" stroke="#1d50a2" stroke-width="1.4" fill="none"/>
<path d="M977.5,465.3 V523.7" stroke="#e60012" stroke-width="1.4" fill="none"/>
<path d="M978.0,465.3 L981.5,472.90000000000003 V515.2" stroke="#1d50a2" stroke-width="1.4" fill="none"/>
<path d="M990.3,465.3 V523.7" stroke="#e60012" stroke-width="1.4" fill="none"/>
<path d="M990.8000000000001,465.3 L994.3,472.90000000000003 V515.2" stroke="#1d50a2" stroke-width="1.4" fill="none"/>
<rect x="920.6" y="340.5" width="20.6" height="13.6" rx="0.8" fill="#fafafa" stroke="#5d5553" stroke-width="1.2"/><rect x="922.6" y="342.2" width="14" height="10.2" fill="#8f8f8f" stroke="#4f4847" stroke-width="1"/>
<rect x="949.4" y="340.5" width="20.6" height="13.6" rx="0.8" fill="#fafafa" stroke="#5d5553" stroke-width="1.2"/><rect x="951.4" y="342.2" width="14" height="10.2" fill="#8f8f8f" stroke="#4f4847" stroke-width="1"/>
<rect x="982.2" y="340.5" width="20.6" height="13.6" rx="0.8" fill="#fafafa" stroke="#5d5553" stroke-width="1.2"/><rect x="984.2" y="342.2" width="14" height="10.2" fill="#8f8f8f" stroke="#4f4847" stroke-width="1"/>
<rect x="940.3" y="358.8" width="50.4" height="16.6" fill="#fdfdfd" stroke="#625a58" stroke-width="1.2"/><rect x="960" y="361.9" width="13" height="5.2" fill="#161616"/>
<path d="M901,394.4 H924.4" stroke="#1a1a1a" stroke-width="1" fill="none"/>
<circle cx="897.2" cy="394" r="5.5" fill="#e1e2e1" stroke="#1a1a1a" stroke-width="0.9"/>
<rect x="924" y="394" width="4.2" height="9.6" rx="0.8" fill="#f4f4f4" stroke="#1a1a1a" stroke-width="1.1"/><path d="M924.4,397 h3.6 M924.4,400.4 h3.6" stroke="#1a1a1a" stroke-width="0.6"/>
<ellipse cx="910" cy="390.4" rx="3.9" ry="1.9" fill="#1a1a1a"/><rect x="908" y="390.4" width="4" height="2.6" fill="#1a1a1a"/>
<path d="M908.6,393.4 Q910.6,391.4 912.6,393.4 L922.6,403.5 Q924.6,405.5 922.6,407.5 L912.6,417.6 Q910.6,419.6 908.6,417.6 L898.6,407.5 Q896.6,405.5 898.6,403.5 Z" fill="#c9c9c9" stroke="#1a1a1a" stroke-width="1.5" stroke-linejoin="round"/>
<path d="M898.8,410.6 V422 M903.4,415.4 V422" fill="none" stroke="#1a1a1a" stroke-width="0.9"/>
<path d="M907.6,418.8 h5.4 v4.6 l-1.2,4.6 h-3 l-1.2,-4.6 Z" fill="#1a1a1a"/><rect x="909" y="420" width="2.4" height="3" fill="#ddd"/>
<circle cx="915.6" cy="424.6" r="2.5" fill="#1a1a1a"/><circle cx="915.6" cy="424.6" r="0.9" fill="#888"/>
<rect x="896.2" y="421.6" width="9.8" height="6.8" rx="0.8" fill="#1a1a1a"/><rect x="897.6" y="424" width="2.6" height="3" fill="#e6e6e6"/><rect x="901.8" y="424" width="2.6" height="3" fill="#e6e6e6"/>
<rect x="896" y="428.4" width="10.2" height="9" rx="1.4" fill="#f4f4f4" stroke="#1a1a1a" stroke-width="1.3"/><rect x="899.4" y="430" width="3.4" height="6" fill="#1a1a1a"/>
<rect x="896.6" y="437.4" width="9" height="2.8" fill="#1a1a1a"/>
<rect x="897" y="440.2" width="8.4" height="4.6" rx="0.8" fill="#f4f4f4" stroke="#1a1a1a" stroke-width="1.1"/><path d="M897.4,442.4 h7.6" stroke="#1a1a1a" stroke-width="0.6"/>
<path d="M896,431 q-3.6,-0.8 -4.8,1.6 l-0.6,2 V450.6 q0.9,1.6 2,0 V435 q0.4,-1.4 3.4,-1.2 Z" fill="#555" stroke="#1a1a1a" stroke-width="0.9"/>
<rect x="914.2" y="443.0" width="8.8" height="8.4" rx="1.4" fill="#8c8c8c" stroke="#1a1a1a" stroke-width="1.3"/>
<path d="M915.6,444.6 v6 M917.6,444.6 v6 M919.6,444.6 v6 M921.6,444.6 v6" stroke="#1a1a1a" stroke-width="0.6"/>
<path d="M912.0,439.6 h5 l1.6,1.4 l1.6,-1.4 h5 v2.8 h-5 l-1.6,1 l-1.6,-1 h-5 Z" fill="#f4f4f4" stroke="#1a1a1a" stroke-width="1.05"/>
<circle cx="920.8000000000001" cy="444.20000000000005" r="0.9" fill="#d3202a"/>
<rect x="923.0" y="443.8" width="5" height="7.6" fill="#1a1a1a"/><path d="M924.6,444.20000000000005 v6.8 M926.4,444.20000000000005 v6.8" stroke="#bbb" stroke-width="0.4"/>
<rect x="927.6" y="443.0" width="3.4" height="9.2" rx="0.8" fill="#f4f4f4" stroke="#1a1a1a" stroke-width="1.05"/>
<rect x="914.8000000000001" y="451.40000000000003" width="7.6" height="3.4" fill="#1a1a1a"/>
<rect x="913.6" y="454.8" width="10" height="4" fill="#f4f4f4" stroke="#1a1a1a" stroke-width="1.2"/>
<rect x="914.4" y="458.8" width="8.4" height="5.4" rx="0.8" fill="#f4f4f4" stroke="#1a1a1a" stroke-width="1.2"/>
<path d="M914.8000000000001,460.6 h7.6 M914.8000000000001,462.40000000000003 h7.6" stroke="#1a1a1a" stroke-width="0.7"/>
<rect x="928.4" y="544.3" width="4.8" height="75.5" rx="1.8" fill="#f4f4f4" stroke="#1a1a1a" stroke-width="1.2"/>
<rect x="929.6999999999999" y="564.8" width="2.2" height="7.5" rx="1" fill="#cfcfcf" stroke="#1a1a1a" stroke-width="0.8"/><rect x="929.6999999999999" y="587.8" width="2.2" height="7.5" rx="1" fill="#cfcfcf" stroke="#1a1a1a" stroke-width="0.8"/>
<rect x="929.0" y="575.8" width="3.6" height="3" fill="#1a1a1a"/>
<rect x="928.8" y="545.3" width="4" height="3.4" rx="0.8" fill="#1a1a1a"/><rect x="928.8" y="615.4" width="4" height="3.4" rx="0.8" fill="#1a1a1a"/>
<rect x="1008.4" y="544.3" width="4.8" height="75.5" rx="1.8" fill="#f4f4f4" stroke="#1a1a1a" stroke-width="1.2"/>
<rect x="1009.6999999999999" y="564.8" width="2.2" height="7.5" rx="1" fill="#cfcfcf" stroke="#1a1a1a" stroke-width="0.8"/><rect x="1009.6999999999999" y="587.8" width="2.2" height="7.5" rx="1" fill="#cfcfcf" stroke="#1a1a1a" stroke-width="0.8"/>
<rect x="1009.0" y="575.8" width="3.6" height="3" fill="#1a1a1a"/>
<rect x="1008.8" y="545.3" width="4" height="3.4" rx="0.8" fill="#1a1a1a"/><rect x="1008.8" y="615.4" width="4" height="3.4" rx="0.8" fill="#1a1a1a"/>
<rect x="936.8" y="537.7" width="3.4" height="9.4" rx="1.1" fill="#f4f4f4" stroke="#1a1a1a" stroke-width="1.25"/>
<path d="M935.9,545.6 H941.1 L942.8,547.8 V551.4 H934.2 V547.8 Z" fill="#1a1a1a"/>
<rect x="937.5" y="547.5" width="2" height="0.9" fill="#e0202a"/><rect x="937.9" y="549.0" width="1.6" height="0.8" fill="#e0202a"/>
<rect x="950.0999999999999" y="537.7" width="3.4" height="9.4" rx="1.1" fill="#f4f4f4" stroke="#1a1a1a" stroke-width="1.25"/>
<path d="M949.1999999999999,545.6 H954.4 L956.0999999999999,547.8 V551.4 H947.5 V547.8 Z" fill="#1a1a1a"/>
<rect x="950.8" y="547.5" width="2" height="0.9" fill="#e0202a"/><rect x="951.1999999999999" y="549.0" width="1.6" height="0.8" fill="#e0202a"/>
<rect x="963.0" y="537.7" width="3.4" height="9.4" rx="1.1" fill="#f4f4f4" stroke="#1a1a1a" stroke-width="1.25"/>
<path d="M962.1,545.6 H967.3000000000001 L969.0,547.8 V551.4 H960.4000000000001 V547.8 Z" fill="#1a1a1a"/>
<rect x="963.7" y="547.5" width="2" height="0.9" fill="#e0202a"/><rect x="964.1" y="549.0" width="1.6" height="0.8" fill="#e0202a"/>
<rect x="975.6999999999999" y="537.7" width="3.4" height="9.4" rx="1.1" fill="#f4f4f4" stroke="#1a1a1a" stroke-width="1.25"/>
<path d="M974.8,545.6 H980.0 L981.6999999999999,547.8 V551.4 H973.1 V547.8 Z" fill="#1a1a1a"/>
<rect x="976.4" y="547.5" width="2" height="0.9" fill="#e0202a"/><rect x="976.8" y="549.0" width="1.6" height="0.8" fill="#e0202a"/>
<rect x="988.5" y="537.7" width="3.4" height="9.4" rx="1.1" fill="#f4f4f4" stroke="#1a1a1a" stroke-width="1.25"/>
<path d="M987.6,545.6 H992.8000000000001 L994.5,547.8 V551.4 H985.9000000000001 V547.8 Z" fill="#1a1a1a"/>
<rect x="989.2" y="547.5" width="2" height="0.9" fill="#e0202a"/><rect x="989.6" y="549.0" width="1.6" height="0.8" fill="#e0202a"/>
<path d="M938.5,567.8 V592.8" stroke="#e60012" stroke-width="1.35"/>
<path d="M951.8,567.8 V592.8" stroke="#e60012" stroke-width="1.35"/>
<path d="M964.7,567.8 V592.8" stroke="#e60012" stroke-width="1.35"/>
<path d="M977.4,567.8 V592.8" stroke="#e60012" stroke-width="1.35"/>
<path d="M990.2,567.8 V592.8" stroke="#e60012" stroke-width="1.35"/>
<rect x="929.2" y="549.0" width="6" height="13.6" rx="1.2" fill="#1a1a1a"/><rect x="1006" y="549.0" width="7.6" height="13.6" rx="1.4" fill="#1a1a1a"/>
<rect x="933.4" y="551.7" width="74" height="8.4" fill="#a2a2a2" stroke="#1a1a1a" stroke-width="1.9"/>
<path d="M934.4,553.3 H1006.4" stroke="#6e6e6e" stroke-width="0.7"/>
<rect x="1010.4" y="551.4" width="1.8" height="8.6" fill="#f4f4f4"/>
<path d="M934.7,561.0 H942.3 L942.9,564.2 V567.4 Q942.9,569.4 941.1,569.4 H935.9 Q934.1,569.4 934.1,567.4 V564.2 Z" fill="#1a1a1a"/>
<rect x="935.6" y="565.2" width="5.8" height="3" rx="0.8" fill="#f4f4f4"/><path d="M937.3,565.2 v3 M939.7,565.2 v3" stroke="#1a1a1a" stroke-width="0.5"/>
<path d="M948.0,561.0 H955.5999999999999 L956.1999999999999,564.2 V567.4 Q956.1999999999999,569.4 954.4,569.4 H949.1999999999999 Q947.4,569.4 947.4,567.4 V564.2 Z" fill="#1a1a1a"/>
<rect x="948.9" y="565.2" width="5.8" height="3" rx="0.8" fill="#f4f4f4"/><path d="M950.5999999999999,565.2 v3 M953.0,565.2 v3" stroke="#1a1a1a" stroke-width="0.5"/>
<path d="M960.9000000000001,561.0 H968.5 L969.1,564.2 V567.4 Q969.1,569.4 967.3000000000001,569.4 H962.1 Q960.3000000000001,569.4 960.3000000000001,567.4 V564.2 Z" fill="#1a1a1a"/>
<rect x="961.8000000000001" y="565.2" width="5.8" height="3" rx="0.8" fill="#f4f4f4"/><path d="M963.5,565.2 v3 M965.9000000000001,565.2 v3" stroke="#1a1a1a" stroke-width="0.5"/>
<path d="M973.6,561.0 H981.1999999999999 L981.8,564.2 V567.4 Q981.8,569.4 980.0,569.4 H974.8 Q973.0,569.4 973.0,567.4 V564.2 Z" fill="#1a1a1a"/>
<rect x="974.5" y="565.2" width="5.8" height="3" rx="0.8" fill="#f4f4f4"/><path d="M976.1999999999999,565.2 v3 M978.6,565.2 v3" stroke="#1a1a1a" stroke-width="0.5"/>
<path d="M986.4000000000001,561.0 H994.0 L994.6,564.2 V567.4 Q994.6,569.4 992.8000000000001,569.4 H987.6 Q985.8000000000001,569.4 985.8000000000001,567.4 V564.2 Z" fill="#1a1a1a"/>
<rect x="987.3000000000001" y="565.2" width="5.8" height="3" rx="0.8" fill="#f4f4f4"/><path d="M989.0,565.2 v3 M991.4000000000001,565.2 v3" stroke="#1a1a1a" stroke-width="0.5"/>
<path d="M933.7,593.2 Q933.7,591.4 935.5,591.4 H941.5 Q943.3,591.4 943.3,593.2 V598.6 H933.7 Z" fill="#1a1a1a"/>
<rect x="937.8" y="594.4" width="1.4" height="3.6" fill="#e8e8e8"/>
<rect x="933.9" y="599.6" width="9.2" height="3.6" fill="#1a1a1a"/>
<path d="M947.0,593.2 Q947.0,591.4 948.8,591.4 H954.8 Q956.5999999999999,591.4 956.5999999999999,593.2 V598.6 H947.0 Z" fill="#1a1a1a"/>
<rect x="951.0999999999999" y="594.4" width="1.4" height="3.6" fill="#e8e8e8"/>
<rect x="947.1999999999999" y="599.6" width="9.2" height="3.6" fill="#1a1a1a"/>
<path d="M959.9000000000001,593.2 Q959.9000000000001,591.4 961.7,591.4 H967.7 Q969.5,591.4 969.5,593.2 V598.6 H959.9000000000001 Z" fill="#1a1a1a"/>
<rect x="964.0" y="594.4" width="1.4" height="3.6" fill="#e8e8e8"/>
<rect x="960.1" y="599.6" width="9.2" height="3.6" fill="#1a1a1a"/>
<path d="M972.6,593.2 Q972.6,591.4 974.4,591.4 H980.4 Q982.1999999999999,591.4 982.1999999999999,593.2 V598.6 H972.6 Z" fill="#1a1a1a"/>
<rect x="976.6999999999999" y="594.4" width="1.4" height="3.6" fill="#e8e8e8"/>
<rect x="972.8" y="599.6" width="9.2" height="3.6" fill="#1a1a1a"/>
<path d="M985.4000000000001,593.2 Q985.4000000000001,591.4 987.2,591.4 H993.2 Q995.0,591.4 995.0,593.2 V598.6 H985.4000000000001 Z" fill="#1a1a1a"/>
<rect x="989.5" y="594.4" width="1.4" height="3.6" fill="#e8e8e8"/>
<rect x="985.6" y="599.6" width="9.2" height="3.6" fill="#1a1a1a"/>
<rect x="929.2" y="601.8" width="6" height="13.6" rx="1.2" fill="#1a1a1a"/><rect x="1006" y="601.8" width="7.6" height="13.6" rx="1.4" fill="#1a1a1a"/>
<rect x="933.4" y="603.8" width="74" height="8.6" fill="#a2a2a2" stroke="#1a1a1a" stroke-width="1.9"/>
<path d="M934.4,605.4 H1006.4" stroke="#6e6e6e" stroke-width="0.7"/>
<rect x="1010.4" y="604.2" width="1.8" height="8.6" fill="#f4f4f4"/>
<path d="M934.7,613.2 H942.3 L942.9,616.2 V619.6 Q942.9,621.6 941.1,621.6 H935.9 Q934.1,621.6 934.1,619.6 V616.2 Z" fill="#1a1a1a"/>
<rect x="935.6" y="617.0" width="5.8" height="3.2" rx="0.8" fill="#f4f4f4"/><path d="M937.3,617.0 v3.2 M939.7,617.0 v3.2" stroke="#1a1a1a" stroke-width="0.5"/>
<path d="M948.0,613.2 H955.5999999999999 L956.1999999999999,616.2 V619.6 Q956.1999999999999,621.6 954.4,621.6 H949.1999999999999 Q947.4,621.6 947.4,619.6 V616.2 Z" fill="#1a1a1a"/>
<rect x="948.9" y="617.0" width="5.8" height="3.2" rx="0.8" fill="#f4f4f4"/><path d="M950.5999999999999,617.0 v3.2 M953.0,617.0 v3.2" stroke="#1a1a1a" stroke-width="0.5"/>
<path d="M960.9000000000001,613.2 H968.5 L969.1,616.2 V619.6 Q969.1,621.6 967.3000000000001,621.6 H962.1 Q960.3000000000001,621.6 960.3000000000001,619.6 V616.2 Z" fill="#1a1a1a"/>
<rect x="961.8000000000001" y="617.0" width="5.8" height="3.2" rx="0.8" fill="#f4f4f4"/><path d="M963.5,617.0 v3.2 M965.9000000000001,617.0 v3.2" stroke="#1a1a1a" stroke-width="0.5"/>
<path d="M973.6,613.2 H981.1999999999999 L981.8,616.2 V619.6 Q981.8,621.6 980.0,621.6 H974.8 Q973.0,621.6 973.0,619.6 V616.2 Z" fill="#1a1a1a"/>
<rect x="974.5" y="617.0" width="5.8" height="3.2" rx="0.8" fill="#f4f4f4"/><path d="M976.1999999999999,617.0 v3.2 M978.6,617.0 v3.2" stroke="#1a1a1a" stroke-width="0.5"/>
<path d="M986.4000000000001,613.2 H994.0 L994.6,616.2 V619.6 Q994.6,621.6 992.8000000000001,621.6 H987.6 Q985.8000000000001,621.6 985.8000000000001,619.6 V616.2 Z" fill="#1a1a1a"/>
<rect x="987.3000000000001" y="617.0" width="5.8" height="3.2" rx="0.8" fill="#f4f4f4"/><path d="M989.0,617.0 v3.2 M991.4000000000001,617.0 v3.2" stroke="#1a1a1a" stroke-width="0.5"/>
<rect x="997.4" y="538.4" width="11.6" height="12.6" rx="0.8" fill="#f4f4f4" stroke="#1a1a1a" stroke-width="1.3"/>
<rect x="996.4" y="537.2" width="13.6" height="2.8" fill="#1a1a1a"/><rect x="1003.4" y="532.6" width="4.6" height="5" rx="0.8" fill="#1a1a1a"/>
<rect x="1000.2" y="562.8" width="7" height="37" rx="1" fill="#f4f4f4" stroke="#1a1a1a" stroke-width="1"/>
<rect x="999.2" y="562.4" width="9" height="3.8" rx="1" fill="#f4f4f4" stroke="#1a1a1a" stroke-width="1.1"/><rect x="999.2" y="595.4" width="9" height="4.2" rx="1" fill="#f4f4f4" stroke="#1a1a1a" stroke-width="1.1"/>
<path d="M1002.4,566.8 V594.8 M1005,566.8 V594.8" stroke="#8a8a8a" stroke-width="0.7"/>
<path d="M1000,613.4 h6.6 v5.4 l-1.2,2.6 h-4.2 l-1.2,-2.6 Z" fill="#f4f4f4" stroke="#1a1a1a" stroke-width="1.1"/><path d="M1001.2,621.4 h4.2 l-2.1,2.6 Z" fill="#1a1a1a"/>
<path d="M1002.2,614.2 v5 M1004.4,614.2 v5" stroke="#1a1a1a" stroke-width="0.6"/>
<path d="M1007.6,614.0 q5.4,1.4 4.8,6.4 l-3.8,3.4 l-2,-2.6 Z" fill="#1a1a1a"/>
<path d="M936.4,621.6 V670.3" stroke="#e60012" stroke-width="1.4" fill="none"/>
<path d="M939.1,621.6 L940.4,629.2 V672.6" stroke="#1d50a2" stroke-width="1.4" fill="none"/>
<path d="M951.6,621.6 V670.3" stroke="#e60012" stroke-width="1.4" fill="none"/>
<path d="M952.4,621.6 L955.4,629.2 V672.6" stroke="#1d50a2" stroke-width="1.4" fill="none"/>
<path d="M964.8,621.6 V670.3" stroke="#e60012" stroke-width="1.4" fill="none"/>
<path d="M965.3000000000001,621.6 L968.7,629.2 V672.6" stroke="#1d50a2" stroke-width="1.4" fill="none"/>
<path d="M977.5,621.6 V680.0" stroke="#e60012" stroke-width="1.4" fill="none"/>
<path d="M978.0,621.6 L981.5,629.2 V671.5" stroke="#1d50a2" stroke-width="1.4" fill="none"/>
<path d="M990.3,621.6 V680.0" stroke="#e60012" stroke-width="1.4" fill="none"/>
<path d="M990.8000000000001,621.6 L994.3,629.2 V671.5" stroke="#1d50a2" stroke-width="1.4" fill="none"/>
<rect x="912.2" y="548.0" width="8.8" height="8.4" rx="1.4" fill="#8c8c8c" stroke="#1a1a1a" stroke-width="1.3"/>
<path d="M913.6,549.6 v6 M915.6,549.6 v6 M917.6,549.6 v6 M919.6,549.6 v6" stroke="#1a1a1a" stroke-width="0.6"/>
<path d="M910.0,544.6 h5 l1.6,1.4 l1.6,-1.4 h5 v2.8 h-5 l-1.6,1 l-1.6,-1 h-5 Z" fill="#f4f4f4" stroke="#1a1a1a" stroke-width="1.05"/>
<circle cx="918.8000000000001" cy="549.2" r="0.9" fill="#d3202a"/>
<rect x="921.0" y="548.8000000000001" width="5" height="7.6" fill="#1a1a1a"/><path d="M922.6,549.2 v6.8 M924.4,549.2 v6.8" stroke="#bbb" stroke-width="0.4"/>
<rect x="925.6" y="548.0" width="3.4" height="9.2" rx="0.8" fill="#f4f4f4" stroke="#1a1a1a" stroke-width="1.05"/>
<rect x="912.8000000000001" y="556.4" width="7.6" height="3.4" fill="#1a1a1a"/>
<rect x="911.6" y="559.8000000000001" width="10" height="4" fill="#f4f4f4" stroke="#1a1a1a" stroke-width="1.2"/>
<rect x="912.4" y="563.8000000000001" width="8.4" height="5.4" rx="0.8" fill="#f4f4f4" stroke="#1a1a1a" stroke-width="1.2"/>
<path d="M912.8000000000001,565.6 h7.6 M912.8000000000001,567.4 h7.6" stroke="#1a1a1a" stroke-width="0.7"/>
<rect x="912.2" y="599.0" width="8.8" height="8.4" rx="1.4" fill="#8c8c8c" stroke="#1a1a1a" stroke-width="1.3"/>
<path d="M913.6,600.6 v6 M915.6,600.6 v6 M917.6,600.6 v6 M919.6,600.6 v6" stroke="#1a1a1a" stroke-width="0.6"/>
<path d="M910.0,595.6 h5 l1.6,1.4 l1.6,-1.4 h5 v2.8 h-5 l-1.6,1 l-1.6,-1 h-5 Z" fill="#f4f4f4" stroke="#1a1a1a" stroke-width="1.05"/>
<circle cx="918.8000000000001" cy="600.2" r="0.9" fill="#d3202a"/>
<rect x="921.0" y="599.8000000000001" width="5" height="7.6" fill="#1a1a1a"/><path d="M922.6,600.2 v6.8 M924.4,600.2 v6.8" stroke="#bbb" stroke-width="0.4"/>
<rect x="925.6" y="599.0" width="3.4" height="9.2" rx="0.8" fill="#f4f4f4" stroke="#1a1a1a" stroke-width="1.05"/>
<rect x="912.8000000000001" y="607.4" width="7.6" height="3.4" fill="#1a1a1a"/>
<rect x="911.6" y="610.8000000000001" width="10" height="4" fill="#f4f4f4" stroke="#1a1a1a" stroke-width="1.2"/>
<rect x="912.4" y="614.8000000000001" width="8.4" height="5.4" rx="0.8" fill="#f4f4f4" stroke="#1a1a1a" stroke-width="1.2"/>
<path d="M912.8000000000001,616.6 h7.6 M912.8000000000001,618.4 h7.6" stroke="#1a1a1a" stroke-width="0.7"/>
<path d="M1077.0,297.6 L1228.3,297.6 A9.0,9.0 0 0 0 1237.3,288.6 L1237.3,173.1 A9.0,9.0 0 0 0 1228.3,164.1 L1111.2,164.1 A9.0,9.0 0 0 0 1102.2,173.1 L1102.2,273.5 A8.5,8.5 0 0 0 1110.7,282.0 L1213.4,282.0 A8.0,8.0 0 0 0 1221.4,274.0 L1221.4,187.8 A8.0,8.0 0 0 0 1213.4,179.8 L1126.1,179.8 A8.0,8.0 0 0 0 1118.1,187.8 L1118.1,258.8 A7.5,7.5 0 0 0 1125.6,266.3 L1198.5,266.3 A7.0,7.0 0 0 0 1205.5,259.3 L1205.5,202.6 A7.0,7.0 0 0 0 1198.5,195.6 L1141.0,195.6 A7.0,7.0 0 0 0 1134.0,202.6 L1134.0,244.2 A6.5,6.5 0 0 0 1140.5,250.7 L1183.7,250.7 A6.0,6.0 0 0 0 1189.7,244.7 L1189.7,217.3 A6.0,6.0 0 0 0 1183.7,211.3 L1155.9,211.3 A6.0,6.0 0 0 0 1149.9,217.3 L1149.9,229.5 A5.5,5.5 0 0 0 1155.4,235.0 L1166.9,235.0 A3.6,3.6 0 0 0 1170.5,231.4 L1170.5,230.2 A3.2,3.2 0 0 0 1167.3,227.0 L1161.5,227.0 A3.6,3.6 0 0 1 1157.9,223.4 L1157.9,223.1 A3.9,3.9 0 0 1 1161.8,219.2 L1176.2,219.2 A5.5,5.5 0 0 1 1181.7,224.7 L1181.7,237.4 A5.5,5.5 0 0 1 1176.2,242.9 L1148.0,242.9 A6.0,6.0 0 0 1 1142.0,236.9 L1142.0,209.9 A6.5,6.5 0 0 1 1148.5,203.4 L1191.1,203.4 A6.5,6.5 0 0 1 1197.6,209.9 L1197.6,252.0 A6.5,6.5 0 0 1 1191.1,258.5 L1133.0,258.5 A7.0,7.0 0 0 1 1126.0,251.5 L1126.0,195.2 A7.5,7.5 0 0 1 1133.5,187.7 L1206.0,187.7 A7.5,7.5 0 0 1 1213.5,195.2 L1213.5,266.6 A7.5,7.5 0 0 1 1206.0,274.1 L1118.2,274.1 A8.0,8.0 0 0 1 1110.2,266.1 L1110.2,180.5 A8.5,8.5 0 0 1 1118.7,172.0 L1220.9,172.0 A8.5,8.5 0 0 1 1229.4,180.5 L1229.4,281.3 A8.5,8.5 0 0 1 1220.9,289.8 L1077.0,289.8" fill="none" stroke="#e8501a" stroke-width="2.7" stroke-linejoin="round"/>
<path d="M1077.0,297.6 L1228.3,297.6 A9.0,9.0 0 0 0 1237.3,288.6 L1237.3,173.1 A9.0,9.0 0 0 0 1228.3,164.1 L1111.2,164.1 A9.0,9.0 0 0 0 1102.2,173.1 L1102.2,273.5 A8.5,8.5 0 0 0 1110.7,282.0 L1213.4,282.0 A8.0,8.0 0 0 0 1221.4,274.0 L1221.4,187.8 A8.0,8.0 0 0 0 1213.4,179.8 L1126.1,179.8 A8.0,8.0 0 0 0 1118.1,187.8 L1118.1,258.8 A7.5,7.5 0 0 0 1125.6,266.3 L1198.5,266.3 A7.0,7.0 0 0 0 1205.5,259.3 L1205.5,202.6 A7.0,7.0 0 0 0 1198.5,195.6 L1141.0,195.6 A7.0,7.0 0 0 0 1134.0,202.6 L1134.0,244.2 A6.5,6.5 0 0 0 1140.5,250.7 L1183.7,250.7 A6.0,6.0 0 0 0 1189.7,244.7 L1189.7,217.3 A6.0,6.0 0 0 0 1183.7,211.3 L1155.9,211.3 A6.0,6.0 0 0 0 1149.9,217.3 L1149.9,229.5 A5.5,5.5 0 0 0 1155.4,235.0 L1166.9,235.0 A3.6,3.6 0 0 0 1170.5,231.4 L1170.5,230.2 A3.2,3.2 0 0 0 1167.3,227.0 L1161.5,227.0 A3.6,3.6 0 0 1 1157.9,223.4 L1157.9,223.1 A3.9,3.9 0 0 1 1161.8,219.2 L1176.2,219.2 A5.5,5.5 0 0 1 1181.7,224.7 L1181.7,237.4 A5.5,5.5 0 0 1 1176.2,242.9 L1148.0,242.9 A6.0,6.0 0 0 1 1142.0,236.9 L1142.0,209.9 A6.5,6.5 0 0 1 1148.5,203.4 L1191.1,203.4 A6.5,6.5 0 0 1 1197.6,209.9 L1197.6,252.0 A6.5,6.5 0 0 1 1191.1,258.5 L1133.0,258.5 A7.0,7.0 0 0 1 1126.0,251.5 L1126.0,195.2 A7.5,7.5 0 0 1 1133.5,187.7 L1206.0,187.7 A7.5,7.5 0 0 1 1213.5,195.2 L1213.5,266.6 A7.5,7.5 0 0 1 1206.0,274.1 L1118.2,274.1 A8.0,8.0 0 0 1 1110.2,266.1 L1110.2,180.5 A8.5,8.5 0 0 1 1118.7,172.0 L1220.9,172.0 A8.5,8.5 0 0 1 1229.4,180.5 L1229.4,281.3 A8.5,8.5 0 0 1 1220.9,289.8 L1077.0,289.8" fill="none" stroke="#f59a5c" stroke-width="1.0" stroke-linejoin="round"/>
<rect x="1065.9" y="287.8" width="6.6" height="3.5" fill="#e2231a"/>
<rect x="1065.9" y="296.4" width="6.6" height="3.9" fill="#1c7fcf"/>
<rect x="1072.2" y="281.7" width="5.5" height="23.3" rx="2.7" fill="#f6f6f6"/>
<path d="M1077.0,482.3 L1228.3,482.3 A9.0,9.0 0 0 0 1237.3,473.3 L1237.3,357.8 A9.0,9.0 0 0 0 1228.3,348.8 L1111.2,348.8 A9.0,9.0 0 0 0 1102.2,357.8 L1102.2,458.2 A8.5,8.5 0 0 0 1110.7,466.7 L1213.4,466.7 A8.0,8.0 0 0 0 1221.4,458.7 L1221.4,372.5 A8.0,8.0 0 0 0 1213.4,364.5 L1126.1,364.5 A8.0,8.0 0 0 0 1118.1,372.5 L1118.1,443.5 A7.5,7.5 0 0 0 1125.6,451.0 L1198.5,451.0 A7.0,7.0 0 0 0 1205.5,444.0 L1205.5,387.3 A7.0,7.0 0 0 0 1198.5,380.3 L1141.0,380.3 A7.0,7.0 0 0 0 1134.0,387.3 L1134.0,428.9 A6.5,6.5 0 0 0 1140.5,435.4 L1183.7,435.4 A6.0,6.0 0 0 0 1189.7,429.4 L1189.7,402.0 A6.0,6.0 0 0 0 1183.7,396.0 L1155.9,396.0 A6.0,6.0 0 0 0 1149.9,402.0 L1149.9,414.2 A5.5,5.5 0 0 0 1155.4,419.7 L1166.9,419.7 A3.6,3.6 0 0 0 1170.5,416.1 L1170.5,414.9 A3.2,3.2 0 0 0 1167.3,411.7 L1161.5,411.7 A3.6,3.6 0 0 1 1157.9,408.1 L1157.9,407.8 A3.9,3.9 0 0 1 1161.8,403.9 L1176.2,403.9 A5.5,5.5 0 0 1 1181.7,409.4 L1181.7,422.1 A5.5,5.5 0 0 1 1176.2,427.6 L1148.0,427.6 A6.0,6.0 0 0 1 1142.0,421.6 L1142.0,394.6 A6.5,6.5 0 0 1 1148.5,388.1 L1191.1,388.1 A6.5,6.5 0 0 1 1197.6,394.6 L1197.6,436.7 A6.5,6.5 0 0 1 1191.1,443.2 L1133.0,443.2 A7.0,7.0 0 0 1 1126.0,436.2 L1126.0,379.9 A7.5,7.5 0 0 1 1133.5,372.4 L1206.0,372.4 A7.5,7.5 0 0 1 1213.5,379.9 L1213.5,451.3 A7.5,7.5 0 0 1 1206.0,458.8 L1118.2,458.8 A8.0,8.0 0 0 1 1110.2,450.8 L1110.2,365.2 A8.5,8.5 0 0 1 1118.7,356.7 L1220.9,356.7 A8.5,8.5 0 0 1 1229.4,365.2 L1229.4,466.0 A8.5,8.5 0 0 1 1220.9,474.5 L1077.0,474.5" fill="none" stroke="#e8501a" stroke-width="2.7" stroke-linejoin="round"/>
<path d="M1077.0,482.3 L1228.3,482.3 A9.0,9.0 0 0 0 1237.3,473.3 L1237.3,357.8 A9.0,9.0 0 0 0 1228.3,348.8 L1111.2,348.8 A9.0,9.0 0 0 0 1102.2,357.8 L1102.2,458.2 A8.5,8.5 0 0 0 1110.7,466.7 L1213.4,466.7 A8.0,8.0 0 0 0 1221.4,458.7 L1221.4,372.5 A8.0,8.0 0 0 0 1213.4,364.5 L1126.1,364.5 A8.0,8.0 0 0 0 1118.1,372.5 L1118.1,443.5 A7.5,7.5 0 0 0 1125.6,451.0 L1198.5,451.0 A7.0,7.0 0 0 0 1205.5,444.0 L1205.5,387.3 A7.0,7.0 0 0 0 1198.5,380.3 L1141.0,380.3 A7.0,7.0 0 0 0 1134.0,387.3 L1134.0,428.9 A6.5,6.5 0 0 0 1140.5,435.4 L1183.7,435.4 A6.0,6.0 0 0 0 1189.7,429.4 L1189.7,402.0 A6.0,6.0 0 0 0 1183.7,396.0 L1155.9,396.0 A6.0,6.0 0 0 0 1149.9,402.0 L1149.9,414.2 A5.5,5.5 0 0 0 1155.4,419.7 L1166.9,419.7 A3.6,3.6 0 0 0 1170.5,416.1 L1170.5,414.9 A3.2,3.2 0 0 0 1167.3,411.7 L1161.5,411.7 A3.6,3.6 0 0 1 1157.9,408.1 L1157.9,407.8 A3.9,3.9 0 0 1 1161.8,403.9 L1176.2,403.9 A5.5,5.5 0 0 1 1181.7,409.4 L1181.7,422.1 A5.5,5.5 0 0 1 1176.2,427.6 L1148.0,427.6 A6.0,6.0 0 0 1 1142.0,421.6 L1142.0,394.6 A6.5,6.5 0 0 1 1148.5,388.1 L1191.1,388.1 A6.5,6.5 0 0 1 1197.6,394.6 L1197.6,436.7 A6.5,6.5 0 0 1 1191.1,443.2 L1133.0,443.2 A7.0,7.0 0 0 1 1126.0,436.2 L1126.0,379.9 A7.5,7.5 0 0 1 1133.5,372.4 L1206.0,372.4 A7.5,7.5 0 0 1 1213.5,379.9 L1213.5,451.3 A7.5,7.5 0 0 1 1206.0,458.8 L1118.2,458.8 A8.0,8.0 0 0 1 1110.2,450.8 L1110.2,365.2 A8.5,8.5 0 0 1 1118.7,356.7 L1220.9,356.7 A8.5,8.5 0 0 1 1229.4,365.2 L1229.4,466.0 A8.5,8.5 0 0 1 1220.9,474.5 L1077.0,474.5" fill="none" stroke="#f59a5c" stroke-width="1.0" stroke-linejoin="round"/>
<rect x="1065.9" y="472.5" width="6.6" height="3.5" fill="#e2231a"/>
<rect x="1065.9" y="481.1" width="6.6" height="3.9" fill="#1c7fcf"/>
<rect x="1072.2" y="466.4" width="5.5" height="23.3" rx="2.7" fill="#f6f6f6"/>
<path d="M1077.0,658.1 L1228.3,658.1 A9.0,9.0 0 0 0 1237.3,649.1 L1237.3,533.6 A9.0,9.0 0 0 0 1228.3,524.6 L1111.2,524.6 A9.0,9.0 0 0 0 1102.2,533.6 L1102.2,634.0 A8.5,8.5 0 0 0 1110.7,642.5 L1213.4,642.5 A8.0,8.0 0 0 0 1221.4,634.5 L1221.4,548.3 A8.0,8.0 0 0 0 1213.4,540.3 L1126.1,540.3 A8.0,8.0 0 0 0 1118.1,548.3 L1118.1,619.3 A7.5,7.5 0 0 0 1125.6,626.8 L1198.5,626.8 A7.0,7.0 0 0 0 1205.5,619.8 L1205.5,563.1 A7.0,7.0 0 0 0 1198.5,556.1 L1141.0,556.1 A7.0,7.0 0 0 0 1134.0,563.1 L1134.0,604.7 A6.5,6.5 0 0 0 1140.5,611.2 L1183.7,611.2 A6.0,6.0 0 0 0 1189.7,605.2 L1189.7,577.8 A6.0,6.0 0 0 0 1183.7,571.8 L1155.9,571.8 A6.0,6.0 0 0 0 1149.9,577.8 L1149.9,590.0 A5.5,5.5 0 0 0 1155.4,595.5 L1166.9,595.5 A3.6,3.6 0 0 0 1170.5,591.9 L1170.5,590.7 A3.2,3.2 0 0 0 1167.3,587.5 L1161.5,587.5 A3.6,3.6 0 0 1 1157.9,583.9 L1157.9,583.6 A3.9,3.9 0 0 1 1161.8,579.7 L1176.2,579.7 A5.5,5.5 0 0 1 1181.7,585.2 L1181.7,597.9 A5.5,5.5 0 0 1 1176.2,603.4 L1148.0,603.4 A6.0,6.0 0 0 1 1142.0,597.4 L1142.0,570.5 A6.5,6.5 0 0 1 1148.5,564.0 L1191.1,564.0 A6.5,6.5 0 0 1 1197.6,570.5 L1197.6,612.5 A6.5,6.5 0 0 1 1191.1,619.0 L1133.0,619.0 A7.0,7.0 0 0 1 1126.0,612.0 L1126.0,555.7 A7.5,7.5 0 0 1 1133.5,548.2 L1206.0,548.2 A7.5,7.5 0 0 1 1213.5,555.7 L1213.5,627.1 A7.5,7.5 0 0 1 1206.0,634.6 L1118.2,634.6 A8.0,8.0 0 0 1 1110.2,626.6 L1110.2,541.0 A8.5,8.5 0 0 1 1118.7,532.5 L1220.9,532.5 A8.5,8.5 0 0 1 1229.4,541.0 L1229.4,641.8 A8.5,8.5 0 0 1 1220.9,650.3 L1077.0,650.3" fill="none" stroke="#e8501a" stroke-width="2.7" stroke-linejoin="round"/>
<path d="M1077.0,658.1 L1228.3,658.1 A9.0,9.0 0 0 0 1237.3,649.1 L1237.3,533.6 A9.0,9.0 0 0 0 1228.3,524.6 L1111.2,524.6 A9.0,9.0 0 0 0 1102.2,533.6 L1102.2,634.0 A8.5,8.5 0 0 0 1110.7,642.5 L1213.4,642.5 A8.0,8.0 0 0 0 1221.4,634.5 L1221.4,548.3 A8.0,8.0 0 0 0 1213.4,540.3 L1126.1,540.3 A8.0,8.0 0 0 0 1118.1,548.3 L1118.1,619.3 A7.5,7.5 0 0 0 1125.6,626.8 L1198.5,626.8 A7.0,7.0 0 0 0 1205.5,619.8 L1205.5,563.1 A7.0,7.0 0 0 0 1198.5,556.1 L1141.0,556.1 A7.0,7.0 0 0 0 1134.0,563.1 L1134.0,604.7 A6.5,6.5 0 0 0 1140.5,611.2 L1183.7,611.2 A6.0,6.0 0 0 0 1189.7,605.2 L1189.7,577.8 A6.0,6.0 0 0 0 1183.7,571.8 L1155.9,571.8 A6.0,6.0 0 0 0 1149.9,577.8 L1149.9,590.0 A5.5,5.5 0 0 0 1155.4,595.5 L1166.9,595.5 A3.6,3.6 0 0 0 1170.5,591.9 L1170.5,590.7 A3.2,3.2 0 0 0 1167.3,587.5 L1161.5,587.5 A3.6,3.6 0 0 1 1157.9,583.9 L1157.9,583.6 A3.9,3.9 0 0 1 1161.8,579.7 L1176.2,579.7 A5.5,5.5 0 0 1 1181.7,585.2 L1181.7,597.9 A5.5,5.5 0 0 1 1176.2,603.4 L1148.0,603.4 A6.0,6.0 0 0 1 1142.0,597.4 L1142.0,570.5 A6.5,6.5 0 0 1 1148.5,564.0 L1191.1,564.0 A6.5,6.5 0 0 1 1197.6,570.5 L1197.6,612.5 A6.5,6.5 0 0 1 1191.1,619.0 L1133.0,619.0 A7.0,7.0 0 0 1 1126.0,612.0 L1126.0,555.7 A7.5,7.5 0 0 1 1133.5,548.2 L1206.0,548.2 A7.5,7.5 0 0 1 1213.5,555.7 L1213.5,627.1 A7.5,7.5 0 0 1 1206.0,634.6 L1118.2,634.6 A8.0,8.0 0 0 1 1110.2,626.6 L1110.2,541.0 A8.5,8.5 0 0 1 1118.7,532.5 L1220.9,532.5 A8.5,8.5 0 0 1 1229.4,541.0 L1229.4,641.8 A8.5,8.5 0 0 1 1220.9,650.3 L1077.0,650.3" fill="none" stroke="#f59a5c" stroke-width="1.0" stroke-linejoin="round"/>
<rect x="1065.9" y="648.3" width="6.6" height="3.5" fill="#e2231a"/>
<rect x="1065.9" y="656.9" width="6.6" height="3.9" fill="#1c7fcf"/>
<rect x="1072.2" y="642.2" width="5.5" height="23.3" rx="2.7" fill="#f6f6f6"/>
<g font-family='"Liberation Sans","Noto Sans CJK SC",sans-serif' font-weight="bold" fill="#231815">
<text x="91.1" y="386.01" font-size="12.2" letter-spacing="0.96">生活用水</text>
<text y="400.96" font-size="12.2"><tspan x="65.96">(</tspan><tspan x="71.5" letter-spacing="0.95">厨房、卫生间</tspan><tspan x="150.4">)</tspan></text>
<text x="185.7" y="581.83" font-size="10.8" letter-spacing="0.61">热水循环</text>
<text x="151.7" y="617.32" font-size="10.8" letter-spacing="0.69">热水管</text>
<text x="151.3" y="643.94" font-size="10.8" letter-spacing="0.9">回水管</text>
<text x="140.4" y="663.9" font-size="12.9" letter-spacing="0.7">自来水补水</text>
<text x="279.4" y="516.02" font-size="10.6" letter-spacing="1.2">出水口</text>
<text x="347" y="550.02" font-size="10.6" letter-spacing="0.32">进水口</text>
<text x="280.2" y="662.12" font-size="10.6" letter-spacing="0.57">进水口</text>
<text x="344.2" y="643.82" font-size="10.6" letter-spacing="0.9">出水口</text>
<text x="426.8" y="542.8" font-size="13.2" letter-spacing="1.95">热源</text>
<text x="421.4" y="666.38" font-size="13" letter-spacing="0.4">温控泵</text>
<text x="556.8" y="660.02" font-size="13.2" letter-spacing="0.63">自来水补水</text>
<text x="951" y="160.36" font-size="7.6" letter-spacing="0.62">分层温控</text>
<text x="951.3" y="336.63" font-size="7.6" letter-spacing="0.62">分室温控</text>
</g>
<g font-family='"Liberation Sans","Noto Sans CJK SC",sans-serif' fill="#5c5c5c" font-size="25.5">
<text x="321.7" y="585.35">水</text>
<text x="321.8" y="614.34">箱</text>
</g>
<g font-family='"Liberation Sans","Noto Sans CJK SC",sans-serif' fill="#3e3a39">
<text y="461.98" font-size="17.5" font-weight="bold"><tspan x="652.8">2</tspan><tspan x="665">-</tspan><tspan x="673.3">5</tspan><tspan x="685.5">路</tspan></text>
<text y="596.38" font-size="9.4" font-weight="bold"><tspan x="579.4" letter-spacing="1.1">Dn32</tspan><tspan x="607.5" letter-spacing="1.07">去耦罐</tspan></text>
<text y="614.06" font-size="9"><tspan x="657.7">φ</tspan><tspan x="665.3" letter-spacing="0.7">25</tspan></text>
</g>
</svg>
</body></html>
